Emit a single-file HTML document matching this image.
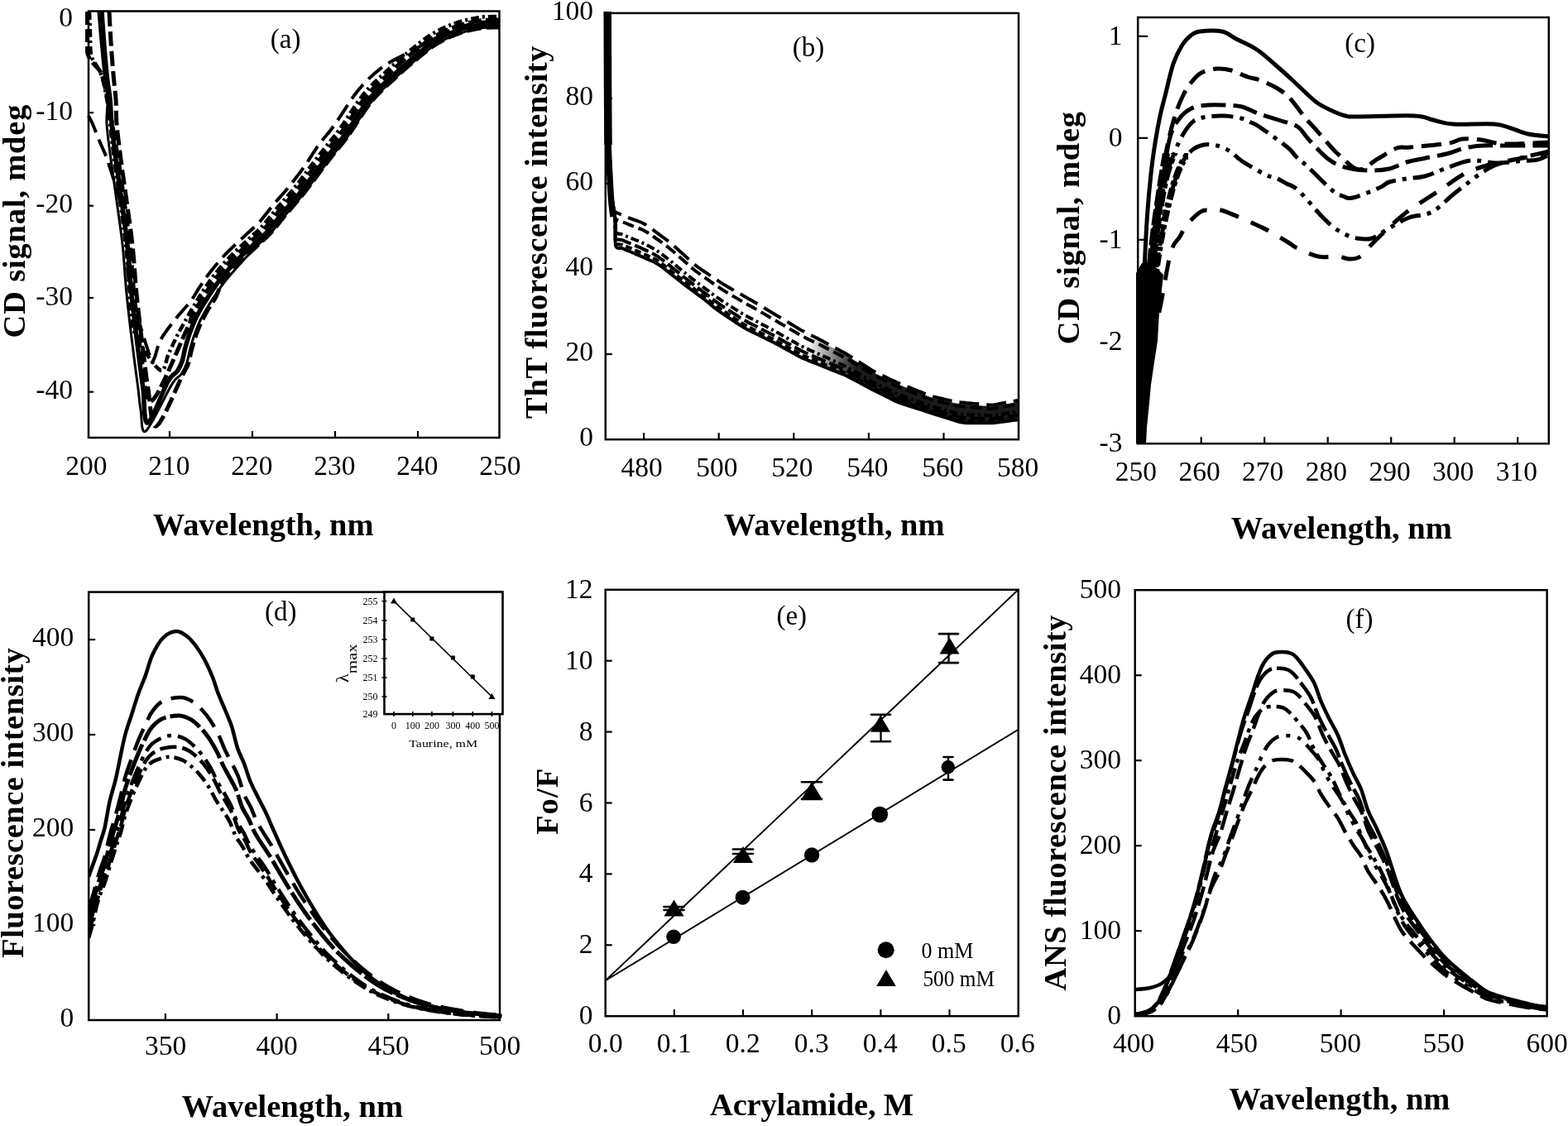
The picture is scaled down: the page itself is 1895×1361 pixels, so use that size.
<!DOCTYPE html><html><head><meta charset="utf-8"><title>Figure</title>
<style>html,body{margin:0;padding:0;background:#fff;}svg{display:block;}text{font-family:'Liberation Serif', serif;fill:#000;}</style></head><body>
<svg width="1895" height="1361" viewBox="0 0 1895 1361">
<rect width="1895" height="1361" fill="#fff"/>
<rect x="107" y="13.5" width="496.5" height="515.5" fill="none" stroke="#000" stroke-width="2.5"/>
<line x1="205" y1="529" x2="205" y2="521" stroke="#000" stroke-width="2.2"/>
<line x1="305" y1="529" x2="305" y2="521" stroke="#000" stroke-width="2.2"/>
<line x1="405" y1="529" x2="405" y2="521" stroke="#000" stroke-width="2.2"/>
<line x1="505" y1="529" x2="505" y2="521" stroke="#000" stroke-width="2.2"/>
<line x1="107" y1="136.2" x2="113" y2="136.2" stroke="#000" stroke-width="2.2"/>
<line x1="107" y1="248.7" x2="113" y2="248.7" stroke="#000" stroke-width="2.2"/>
<line x1="107" y1="360" x2="113" y2="360" stroke="#000" stroke-width="2.2"/>
<line x1="107" y1="473.7" x2="113" y2="473.7" stroke="#000" stroke-width="2.2"/>
<text x="88" y="32.2" font-size="33.5" text-anchor="end">0</text>
<text x="88" y="144.7" font-size="33.5" text-anchor="end">-10</text>
<text x="88" y="257.2" font-size="33.5" text-anchor="end">-20</text>
<text x="88" y="368.5" font-size="33.5" text-anchor="end">-30</text>
<text x="88" y="482.2" font-size="33.5" text-anchor="end">-40</text>
<text x="104.4" y="573.7" font-size="33.5" text-anchor="middle">200</text>
<text x="204.4" y="573.7" font-size="33.5" text-anchor="middle">210</text>
<text x="304.4" y="573.7" font-size="33.5" text-anchor="middle">220</text>
<text x="404.4" y="573.7" font-size="33.5" text-anchor="middle">230</text>
<text x="504.4" y="573.7" font-size="33.5" text-anchor="middle">240</text>
<text x="604.4" y="573.7" font-size="33.5" text-anchor="middle">250</text>
<text x="318.2" y="646.7" font-size="38.5" text-anchor="middle" font-weight="bold" textLength="266.7" lengthAdjust="spacing">Wavelength, nm</text>
<text transform="translate(29.5,267.5) rotate(-90)" x="0" y="0" font-size="38.5" text-anchor="middle" font-weight="bold" textLength="282" lengthAdjust="spacing">CD signal, mdeg</text>
<text x="345.1" y="58.1" font-size="33" text-anchor="middle">(a)</text>
<rect x="731.8" y="15.9" width="499.2" height="515.3" fill="none" stroke="#000" stroke-width="2.5"/>
<line x1="778.1" y1="531.2" x2="778.1" y2="523.2" stroke="#000" stroke-width="2.2"/>
<line x1="868.7" y1="531.2" x2="868.7" y2="523.2" stroke="#000" stroke-width="2.2"/>
<line x1="959.3" y1="531.2" x2="959.3" y2="523.2" stroke="#000" stroke-width="2.2"/>
<line x1="1049.9" y1="531.2" x2="1049.9" y2="523.2" stroke="#000" stroke-width="2.2"/>
<line x1="1140.5" y1="531.2" x2="1140.5" y2="523.2" stroke="#000" stroke-width="2.2"/>
<line x1="731.8" y1="428.1" x2="739.8" y2="428.1" stroke="#000" stroke-width="2.2"/>
<line x1="731.8" y1="325.1" x2="739.8" y2="325.1" stroke="#000" stroke-width="2.2"/>
<line x1="731.8" y1="222" x2="739.8" y2="222" stroke="#000" stroke-width="2.2"/>
<line x1="731.8" y1="119" x2="739.8" y2="119" stroke="#000" stroke-width="2.2"/>
<text x="716.9" y="539.2" font-size="33.5" text-anchor="end">0</text>
<text x="716.9" y="436.1" font-size="33.5" text-anchor="end">20</text>
<text x="716.9" y="333.1" font-size="33.5" text-anchor="end">40</text>
<text x="716.9" y="230" font-size="33.5" text-anchor="end">60</text>
<text x="716.9" y="127" font-size="33.5" text-anchor="end">80</text>
<text x="716.9" y="23.9" font-size="33.5" text-anchor="end">100</text>
<text x="775.5" y="576" font-size="33.5" text-anchor="middle">480</text>
<text x="866.4" y="576" font-size="33.5" text-anchor="middle">500</text>
<text x="957.4" y="576" font-size="33.5" text-anchor="middle">520</text>
<text x="1048.3" y="576" font-size="33.5" text-anchor="middle">540</text>
<text x="1139.3" y="576" font-size="33.5" text-anchor="middle">560</text>
<text x="1230.2" y="576" font-size="33.5" text-anchor="middle">580</text>
<text x="1008.2" y="646.7" font-size="38.5" text-anchor="middle" font-weight="bold" textLength="266.7" lengthAdjust="spacing">Wavelength, nm</text>
<text transform="translate(660.6,280.7) rotate(-90)" x="0" y="0" font-size="38.5" text-anchor="middle" font-weight="bold" textLength="450.4" lengthAdjust="spacing">ThT fluorescence intensity</text>
<text x="977" y="67.5" font-size="33" text-anchor="middle">(b)</text>
<rect x="1375.2" y="21" width="496.6" height="515.2" fill="none" stroke="#000" stroke-width="2.5"/>
<line x1="1451.7" y1="536.2" x2="1451.7" y2="528.2" stroke="#000" stroke-width="2.2"/>
<line x1="1528.2" y1="536.2" x2="1528.2" y2="528.2" stroke="#000" stroke-width="2.2"/>
<line x1="1604.7" y1="536.2" x2="1604.7" y2="528.2" stroke="#000" stroke-width="2.2"/>
<line x1="1681.2" y1="536.2" x2="1681.2" y2="528.2" stroke="#000" stroke-width="2.2"/>
<line x1="1757.7" y1="536.2" x2="1757.7" y2="528.2" stroke="#000" stroke-width="2.2"/>
<line x1="1834.2" y1="536.2" x2="1834.2" y2="528.2" stroke="#000" stroke-width="2.2"/>
<line x1="1375.2" y1="43.8" x2="1387.2" y2="43.8" stroke="#000" stroke-width="2.2"/>
<line x1="1375.2" y1="166.8" x2="1387.2" y2="166.8" stroke="#000" stroke-width="2.2"/>
<line x1="1375.2" y1="289.8" x2="1387.2" y2="289.8" stroke="#000" stroke-width="2.2"/>
<line x1="1375.2" y1="412.8" x2="1387.2" y2="412.8" stroke="#000" stroke-width="2.2"/>
<text x="1356.5" y="54" font-size="33.5" text-anchor="end">1</text>
<text x="1356.5" y="177" font-size="33.5" text-anchor="end">0</text>
<text x="1356.5" y="300" font-size="33.5" text-anchor="end">-1</text>
<text x="1356.5" y="423" font-size="33.5" text-anchor="end">-2</text>
<text x="1356.5" y="546" font-size="33.5" text-anchor="end">-3</text>
<text x="1372.9" y="580.7" font-size="33.5" text-anchor="middle">250</text>
<text x="1449.6" y="580.7" font-size="33.5" text-anchor="middle">260</text>
<text x="1526.2" y="580.7" font-size="33.5" text-anchor="middle">270</text>
<text x="1602.9" y="580.7" font-size="33.5" text-anchor="middle">280</text>
<text x="1679.5" y="580.7" font-size="33.5" text-anchor="middle">290</text>
<text x="1756.2" y="580.7" font-size="33.5" text-anchor="middle">300</text>
<text x="1832.8" y="580.7" font-size="33.5" text-anchor="middle">310</text>
<text x="1621.2" y="651" font-size="38.5" text-anchor="middle" font-weight="bold" textLength="267.1" lengthAdjust="spacing">Wavelength, nm</text>
<text transform="translate(1303.5,275.6) rotate(-90)" x="0" y="0" font-size="38.5" text-anchor="middle" font-weight="bold" textLength="281.2" lengthAdjust="spacing">CD signal, mdeg</text>
<text x="1643.6" y="62.8" font-size="33" text-anchor="middle">(c)</text>
<rect x="107.2" y="715.6" width="496.8" height="517.4" fill="none" stroke="#000" stroke-width="2.5"/>
<line x1="199.9" y1="1233" x2="199.9" y2="1225" stroke="#000" stroke-width="2.2"/>
<line x1="334.6" y1="1233" x2="334.6" y2="1225" stroke="#000" stroke-width="2.2"/>
<line x1="469.3" y1="1233" x2="469.3" y2="1225" stroke="#000" stroke-width="2.2"/>
<line x1="107.2" y1="1118" x2="115.2" y2="1118" stroke="#000" stroke-width="2.2"/>
<line x1="107.2" y1="1003" x2="115.2" y2="1003" stroke="#000" stroke-width="2.2"/>
<line x1="107.2" y1="888" x2="115.2" y2="888" stroke="#000" stroke-width="2.2"/>
<line x1="107.2" y1="773.1" x2="115.2" y2="773.1" stroke="#000" stroke-width="2.2"/>
<text x="89.2" y="1240.7" font-size="33.5" text-anchor="end">0</text>
<text x="89.2" y="1125.7" font-size="33.5" text-anchor="end">100</text>
<text x="89.2" y="1010.7" font-size="33.5" text-anchor="end">200</text>
<text x="89.2" y="895.7" font-size="33.5" text-anchor="end">300</text>
<text x="89.2" y="780.8" font-size="33.5" text-anchor="end">400</text>
<text x="200" y="1275" font-size="33.5" text-anchor="middle">350</text>
<text x="334.7" y="1275" font-size="33.5" text-anchor="middle">400</text>
<text x="469.5" y="1275" font-size="33.5" text-anchor="middle">450</text>
<text x="604.2" y="1275" font-size="33.5" text-anchor="middle">500</text>
<text x="353.3" y="1350.2" font-size="38.5" text-anchor="middle" font-weight="bold" textLength="267.5" lengthAdjust="spacing">Wavelength, nm</text>
<text transform="translate(28.2,970.5) rotate(-90)" x="0" y="0" font-size="38.5" text-anchor="middle" font-weight="bold" textLength="375" lengthAdjust="spacing">Fluorescence intensity</text>
<text x="339.2" y="750.2" font-size="33" text-anchor="middle">(d)</text>
<rect x="731.7" y="712.8" width="499" height="515.4" fill="none" stroke="#000" stroke-width="2.5"/>
<line x1="814.9" y1="1228.2" x2="814.9" y2="1220.2" stroke="#000" stroke-width="2.2"/>
<line x1="898" y1="1228.2" x2="898" y2="1220.2" stroke="#000" stroke-width="2.2"/>
<line x1="981.2" y1="1228.2" x2="981.2" y2="1220.2" stroke="#000" stroke-width="2.2"/>
<line x1="1064.4" y1="1228.2" x2="1064.4" y2="1220.2" stroke="#000" stroke-width="2.2"/>
<line x1="1147.5" y1="1228.2" x2="1147.5" y2="1220.2" stroke="#000" stroke-width="2.2"/>
<line x1="731.7" y1="1142.3" x2="739.7" y2="1142.3" stroke="#000" stroke-width="2.2"/>
<line x1="731.7" y1="1056.4" x2="739.7" y2="1056.4" stroke="#000" stroke-width="2.2"/>
<line x1="731.7" y1="970.5" x2="739.7" y2="970.5" stroke="#000" stroke-width="2.2"/>
<line x1="731.7" y1="884.6" x2="739.7" y2="884.6" stroke="#000" stroke-width="2.2"/>
<line x1="731.7" y1="798.7" x2="739.7" y2="798.7" stroke="#000" stroke-width="2.2"/>
<text x="716.5" y="1238.2" font-size="33.5" text-anchor="end">0</text>
<text x="716.5" y="1152.3" font-size="33.5" text-anchor="end">2</text>
<text x="716.5" y="1066.4" font-size="33.5" text-anchor="end">4</text>
<text x="716.5" y="980.5" font-size="33.5" text-anchor="end">6</text>
<text x="716.5" y="894.6" font-size="33.5" text-anchor="end">8</text>
<text x="716.5" y="808.7" font-size="33.5" text-anchor="end">10</text>
<text x="716.5" y="722.8" font-size="33.5" text-anchor="end">12</text>
<text x="731.7" y="1272.4" font-size="33.5" text-anchor="middle">0.0</text>
<text x="814.7" y="1272.4" font-size="33.5" text-anchor="middle">0.1</text>
<text x="897.7" y="1272.4" font-size="33.5" text-anchor="middle">0.2</text>
<text x="980.7" y="1272.4" font-size="33.5" text-anchor="middle">0.3</text>
<text x="1063.7" y="1272.4" font-size="33.5" text-anchor="middle">0.4</text>
<text x="1146.7" y="1272.4" font-size="33.5" text-anchor="middle">0.5</text>
<text x="1229.7" y="1272.4" font-size="33.5" text-anchor="middle">0.6</text>
<text x="981.1" y="1348.3" font-size="38.5" text-anchor="middle" font-weight="bold" textLength="246.2" lengthAdjust="spacing">Acrylamide, M</text>
<text transform="translate(674.4,968.9) rotate(-90)" x="0" y="0" font-size="38.5" text-anchor="middle" font-weight="bold" textLength="80.4" lengthAdjust="spacing">Fo/F</text>
<text x="956.8" y="754.8" font-size="33" text-anchor="middle">(e)</text>
<rect x="1371.7" y="713.2" width="497.9" height="515" fill="none" stroke="#000" stroke-width="2.5"/>
<line x1="1496.2" y1="1228.2" x2="1496.2" y2="1220.2" stroke="#000" stroke-width="2.2"/>
<line x1="1620.6" y1="1228.2" x2="1620.6" y2="1220.2" stroke="#000" stroke-width="2.2"/>
<line x1="1745.1" y1="1228.2" x2="1745.1" y2="1220.2" stroke="#000" stroke-width="2.2"/>
<line x1="1371.7" y1="1125.2" x2="1379.7" y2="1125.2" stroke="#000" stroke-width="2.2"/>
<line x1="1371.7" y1="1022.2" x2="1379.7" y2="1022.2" stroke="#000" stroke-width="2.2"/>
<line x1="1371.7" y1="919.2" x2="1379.7" y2="919.2" stroke="#000" stroke-width="2.2"/>
<line x1="1371.7" y1="816.2" x2="1379.7" y2="816.2" stroke="#000" stroke-width="2.2"/>
<text x="1355" y="1237.7" font-size="33.5" text-anchor="end">0</text>
<text x="1355" y="1134.7" font-size="33.5" text-anchor="end">100</text>
<text x="1355" y="1031.7" font-size="33.5" text-anchor="end">200</text>
<text x="1355" y="928.7" font-size="33.5" text-anchor="end">300</text>
<text x="1355" y="825.7" font-size="33.5" text-anchor="end">400</text>
<text x="1355" y="722.7" font-size="33.5" text-anchor="end">500</text>
<text x="1370" y="1272.4" font-size="33.5" text-anchor="middle">400</text>
<text x="1494.9" y="1272.4" font-size="33.5" text-anchor="middle">450</text>
<text x="1619.8" y="1272.4" font-size="33.5" text-anchor="middle">500</text>
<text x="1744.7" y="1272.4" font-size="33.5" text-anchor="middle">550</text>
<text x="1869.6" y="1272.4" font-size="33.5" text-anchor="middle">600</text>
<text x="1618.8" y="1341" font-size="38.5" text-anchor="middle" font-weight="bold" textLength="267.1" lengthAdjust="spacing">Wavelength, nm</text>
<text transform="translate(1287.7,970.4) rotate(-90)" x="0" y="0" font-size="38.5" text-anchor="middle" font-weight="bold" textLength="454" lengthAdjust="spacing">ANS fluorescence intensity</text>
<text x="1643.1" y="759.4" font-size="33" text-anchor="middle">(f)</text>
<clipPath id="ca"><rect x="103" y="9.5" width="504.5" height="519.5"/></clipPath>
<g clip-path="url(#ca)">
<path d="M119,14 C119.5,20 120.8,37.3 122,50 C123.2,62.7 124.7,78.3 126,90 C127.3,101.7 129.5,110 130,120 C130.5,130 128.2,136.7 129,150 C129.8,163.3 132.8,183.3 135,200 C137.2,216.7 139.8,233.3 142,250 C144.2,266.7 146.8,283.3 148.5,300 C150.2,316.7 150.9,333.3 152.5,350 C154.1,366.7 156.2,385 158,400 C159.8,415 161.5,428.3 163,440 C164.5,451.7 165.8,460.8 167,470 C168.2,479.2 168.4,486.5 170,495 C171.6,503.5 170.1,526 176.3,521 C182.5,516 200.3,476.5 207.4,465.1 C214.5,453.6 215.9,456.8 218.9,452.5 C221.9,448.1 223.9,444.1 225.7,439 C227.5,433.8 228.2,427.4 229.8,421.6 C231.4,415.7 233.2,409.5 235.2,404 C237.1,398.5 239.1,393.5 241.4,388.5 C243.8,383.5 246.3,379 249.2,374 C252.1,369 255.4,363.7 259,358.3 C262.6,352.9 265.8,347.9 270.7,341.7 C275.6,335.5 282.2,328.1 288.3,321.1 C294.5,314.2 301.3,306.5 307.8,299.9 C314.2,293.3 320.7,288.4 326.9,281.7 C333.2,275 338.9,266.9 345.1,259.6 C351.3,252.2 357.8,245.4 364.1,237.5 C370.5,229.7 376.8,220.8 383.2,212.4 C389.5,204.1 396,195.4 402.2,187.5 C408.3,179.5 412.4,175.7 420.2,164.8 C428.1,154 439.9,134 449.1,122.5 C458.4,111 467,104.1 475.7,95.9 C484.5,87.7 493,80.2 501.5,73.1 C510.1,66 518.5,58.8 527.1,53.4 C535.8,48 544.4,44 553.4,40.8 C562.3,37.5 572.3,35.2 580.6,34 C588.9,32.7 599.4,33.2 603.2,33" fill="none" stroke="#000" stroke-width="3" stroke-linecap="butt" stroke-linejoin="round"/>
<path d="M123,14 C123.4,20 124.5,37.3 125.5,50 C126.5,62.7 127.8,78.3 129,90 C130.2,101.7 132,110 133,120 C134,130 133.7,136.7 135,150 C136.3,163.3 138.8,183.3 141,200 C143.2,216.7 145.8,233.3 148,250 C150.2,266.7 152.8,283.3 154.5,300 C156.2,316.7 156.9,333.3 158.5,350 C160.1,366.7 162.2,385 164,400 C165.8,415 167.5,428.3 169,440 C170.5,451.7 171.4,458.2 173,470 C174.6,481.8 173.5,512.5 178.5,511 C183.5,509.5 197.1,471.3 203,461 C208.9,450.7 211.2,453 214,449 C216.8,445 218.3,441.8 220,437 C221.7,432.2 222.4,425.8 224,420 C225.6,414.2 227.5,407.7 229.5,402 C231.5,396.3 233.6,391.2 236,386 C238.4,380.8 241,376.2 244,371 C247,365.8 250.3,360.5 254,355 C257.7,349.5 261,344.3 266,338 C271,331.7 277.5,323.8 284,317 C290.5,310.2 298.3,303.3 305,297 C311.7,290.7 317.8,285.7 324,279 C330.2,272.3 335.8,264.3 342,257 C348.2,249.7 354.7,242.8 361,235 C367.3,227.2 373.7,218.3 380,210 C386.3,201.7 392.8,192.9 399,185 C405.2,177.1 409.2,173.3 417,162.5 C424.8,151.7 436.7,131.6 446,120 C455.3,108.4 464.2,101.3 473,93 C481.8,84.7 490.3,77.2 499,70 C507.7,62.8 516.2,55.5 525,50 C533.8,44.5 542.8,40.3 552,37 C561.2,33.7 571.5,31.3 580,30 C588.5,28.7 599.2,29.2 603,29" fill="none" stroke="#000" stroke-width="5.5" stroke-linecap="butt" stroke-linejoin="round"/>
<path d="M104,14 C104.2,18.3 104.7,31.5 105,40 C105.3,48.5 104.5,58.7 106,65 C107.5,71.3 111.3,74.2 114,78 C116.7,81.8 119.7,82.7 122,88 C124.3,93.3 126.2,102.2 128,110 C129.8,117.8 130.3,120 133,135 C135.7,150 141,180.8 144,200 C147,219.2 148.8,233.3 151,250 C153.2,266.7 155.8,283.3 157.5,300 C159.2,316.7 159.9,333.3 161.5,350 C163.1,366.7 165.2,385 167,400 C168.8,415 169.2,426 172,440 C174.8,454 175.2,490.6 184,484 C192.8,477.4 216.9,417 224.8,400.3 C232.7,383.6 229,389.2 231.5,383.9 C234,378.6 236.6,373.8 239.7,368.5 C242.7,363.2 246.1,357.8 249.8,352.2 C253.6,346.6 257,341.3 262.1,334.9 C267.2,328.5 273.8,320.5 280.4,313.6 C287,306.6 294.9,299.7 301.6,293.4 C308.2,287.1 314.2,282.2 320.3,275.6 C326.4,269 332,261.1 338.2,253.8 C344.3,246.5 350.8,239.7 357.1,231.9 C363.4,224.1 369.7,215.3 376,207 C382.3,198.7 388.9,189.8 395.1,181.9 C401.2,174 405.1,170.4 412.9,159.6 C420.8,148.7 432.7,128.6 442.1,116.9 C451.5,105.2 460.6,97.8 469.6,89.4 C478.5,80.9 487,73.4 495.8,66.1 C504.6,58.9 513.3,51.4 522.4,45.8 C531.4,40.1 540.8,35.8 550.3,32.3 C559.8,28.9 570.5,26.4 579.2,25.1 C588,23.7 598.9,24.2 602.8,24" fill="none" stroke="#000" stroke-width="5" stroke-linecap="butt" stroke-linejoin="round" stroke-dasharray="16 5"/>
<path d="M107,140 C107.8,141.7 109.8,145 112,150 C114.2,155 117.5,164 120,170 C122.5,176 125,181 127,186 C129,191 128.7,189.3 132,200 C135.3,210.7 143.4,233.3 147,250 C150.6,266.7 151.8,283.3 153.5,300 C155.2,316.7 152.9,328.3 157.5,350 C162.1,371.7 176.2,416 181,430 C185.8,444 183.8,437.2 186,434 C188.2,430.8 189.8,418.8 194,411 C198.2,403.2 206.3,393.2 211,387 C215.7,380.8 218.7,377.9 222,374 C225.3,370.1 227.8,368 231,363.5 C234.3,358.9 237.7,352.5 241.5,346.7 C245.4,340.9 249,335.4 254.2,328.7 C259.5,322 266.4,313.8 273.1,306.7 C279.9,299.6 288,292.4 294.7,286.1 C301.3,279.8 307,275.3 313,268.8 C319,262.4 324.5,254.6 330.5,247.3 C336.6,240.1 343.1,233.3 349.3,225.6 C355.6,217.8 362,209.4 368.1,200.9 C374.1,192.4 379.7,182.6 385.6,174.6 C391.4,166.5 395.4,163.4 403.2,152.5 C411.1,141.7 423,121.2 432.8,109.3 C442.6,97.5 451.8,88.9 462,81.3 C472.1,73.7 483.5,69.2 493.7,63.6 C504,58 513.9,52.4 523.4,47.5 C533,42.5 541.6,37.6 551,34.2 C560.3,30.8 570.9,28.4 579.5,27 C588.2,25.7 599,26.2 602.9,26" fill="none" stroke="#000" stroke-width="4" stroke-linecap="butt" stroke-linejoin="round" stroke-dasharray="22 9"/>
<path d="M132,14 C132.3,20 133.2,37.3 134,50 C134.8,62.7 136,78.3 137,90 C138,101.7 139.3,110 140,120 C140.7,130 139.8,136.7 141,150 C142.2,163.3 144.8,183.3 147,200 C149.2,216.7 151.8,233.3 154,250 C156.2,266.7 158.8,283.3 160.5,300 C162.2,316.7 162.9,333.3 164.5,350 C166.1,366.7 168.2,385 170,400 C171.8,415 173.5,428.3 175,440 C176.5,451.7 176.7,457.5 179,470 C181.3,482.5 182.1,517.7 189,515 C195.9,512.3 214.1,466.2 220.5,453.6 C227,441.1 225.7,444.9 227.6,439.6 C229.4,434.4 230.1,427.9 231.7,422.1 C233.3,416.3 235.1,410.1 237,404.7 C239,399.2 240.9,394.3 243.2,389.4 C245.6,384.4 248,380 250.9,375 C253.8,370 257.6,365.2 260.7,359.4 C263.7,353.7 264.8,347.1 269.1,340.5 C273.5,333.9 280.5,326.5 286.9,319.8 C293.3,313 301.1,306.2 307.8,299.9 C314.4,293.6 320.7,288.4 326.9,281.7 C333.2,275 338.9,266.9 345.1,259.6 C351.3,252.2 357.8,245.4 364.1,237.5 C370.5,229.7 376.8,220.8 383.2,212.4 C389.5,204.1 396,195.4 402.2,187.5 C408.3,179.5 412.4,175.7 420.2,164.8 C428.1,154 439.9,134 449.1,122.5 C458.4,111 467,104.1 475.7,95.9 C484.5,87.7 493,80.2 501.5,73.1 C510.1,66 518.5,58.8 527.1,53.4 C535.8,48 544.4,44 553.4,40.8 C562.3,37.5 572.3,35.2 580.6,34 C588.9,32.7 599.4,33.2 603.2,33" fill="none" stroke="#000" stroke-width="5" stroke-linecap="butt" stroke-linejoin="round" stroke-dasharray="18 6"/>
<path d="M108,14 C108.2,18.3 108.7,31.3 109,40 C109.3,48.7 108.7,59.3 110,66 C111.3,72.7 114.7,75.2 117,80 C119.3,84.8 121.8,87.5 124,95 C126.2,102.5 128.5,115.8 130,125 C131.5,134.2 131.5,137.5 133,150 C134.5,162.5 136.8,183.3 139,200 C141.2,216.7 143.8,233.3 146,250 C148.2,266.7 150.8,283.3 152.5,300 C154.2,316.7 154.9,333.3 156.5,350 C158.1,366.7 155.9,383.8 162,400 C168.1,416.2 186,442.5 193,447 C200,451.5 200.2,434.5 204,427 C207.8,419.5 210.6,412.1 216,402 C221.4,391.9 231.1,375.1 236.2,366.5 C241.3,357.8 242.7,355.7 246.5,350 C250.3,344.3 253.8,339 258.9,332.4 C264.1,325.9 270.8,317.8 277.5,310.8 C284.1,303.8 292.1,296.8 298.8,290.5 C305.5,284.2 311.3,279.4 317.4,272.9 C323.4,266.3 329,258.5 335.1,251.2 C341.2,243.9 347.7,237.1 354,229.3 C360.3,221.6 366.5,212.9 372.8,204.6 C379.2,196.2 385.8,187.4 391.9,179.5 C398,171.6 401.9,168.1 409.7,157.2 C417.6,146.4 429.5,126.1 439,114.4 C448.5,102.6 457.8,95 466.8,86.5 C475.9,77.9 484.4,70.4 493.3,63.1 C502.2,55.7 511,48.1 520.2,42.4 C529.5,36.6 539.2,32.1 548.9,28.5 C558.7,25 569.7,22.5 578.6,21.1 C587.6,19.7 598.6,20.2 602.6,20" fill="none" stroke="#000" stroke-width="4.5" stroke-linecap="butt" stroke-linejoin="round" stroke-dasharray="10 4 3 4"/>
</g>
<clipPath id="cb"><rect x="727.8" y="11.9" width="507.2" height="519.3"/></clipPath>
<g clip-path="url(#cb)">
<path d="M735,175 C735.2,180 735.9,195.5 736.5,205 C737.1,214.5 737.7,224.4 738.5,232 C739.3,239.6 740.2,246.6 741.1,250.6 C742,254.6 742.2,254.8 744,256.3 C745.8,257.8 749.3,258.6 752,259.8 C754.7,261 757.3,262.2 760,263.3 C762.7,264.4 765.3,265.3 768,266.2 C770.7,267.2 773.3,267.9 776,269.2 C778.7,270.5 781.3,272.2 784,274 C786.7,275.8 789.3,277.9 792,279.8 C794.7,281.8 797.3,283.8 800,285.8 C802.7,287.7 805.3,289.6 808,291.7 C810.7,293.8 813.3,296.3 816,298.6 C818.7,301 821.3,303.4 824,305.8 C826.7,308.2 829.3,310.6 832,313 C834.7,315.4 837.3,318.1 840,320.2 C842.7,322.4 845.3,324.2 848,326.1 C850.7,327.9 853.3,329.6 856,331.4 C858.7,333.2 861.3,335 864,336.8 C866.7,338.6 869.3,340.4 872,342.1 C874.7,343.9 877.3,345.4 880,347 C882.7,348.6 885.3,350 888,351.6 C890.7,353.1 893.3,354.6 896,356.1 C898.7,357.6 901.3,359.2 904,360.7 C906.7,362.2 909.3,363.6 912,365.2 C914.7,366.8 917.3,368.4 920,370 C922.7,371.6 925.3,373.2 928,374.9 C930.7,376.5 933.3,378.1 936,379.7 C938.7,381.3 941.3,382.9 944,384.5 C946.7,386.1 949.3,387.7 952,389.3 C954.7,390.9 957.3,392.5 960,394.1 C962.7,395.7 965.3,397.4 968,398.9 C970.7,400.3 973.3,401.7 976,403 C978.7,404.4 981.3,405.7 984,407 C986.7,408.4 989.3,409.7 992,411.1 C994.7,412.6 997.3,414 1000,415.5 C1002.7,416.9 1005.3,418.3 1008,419.8 C1010.7,421.2 1013.3,422.6 1016,424.1 C1018.7,425.5 1021.3,426.9 1024,428.5 C1026.7,430.1 1029.3,431.9 1032,433.5 C1034.7,435.2 1037.3,436.9 1040,438.6 C1042.7,440.3 1045.3,442 1048,443.7 C1050.7,445.4 1053.3,447.2 1056,448.7 C1058.7,450.2 1061.3,451.3 1064,452.6 C1066.7,453.9 1069.3,455.2 1072,456.5 C1074.7,457.8 1077.3,459.1 1080,460.3 C1082.7,461.6 1085.3,462.8 1088,463.9 C1090.7,465.1 1093.3,466.1 1096,467.1 C1098.7,468.2 1101.3,469.2 1104,470.3 C1106.7,471.4 1109.3,472.4 1112,473.5 C1114.7,474.5 1117.3,475.7 1120,476.7 C1122.7,477.6 1125.3,478.6 1128,479.4 C1130.7,480.1 1133.3,480.6 1136,481.2 C1138.7,481.9 1141.3,482.5 1144,483.1 C1146.7,483.8 1149.3,484.5 1152,485 C1154.7,485.5 1157.3,485.9 1160,486.2 C1162.7,486.5 1165.3,486.7 1168,487 C1170.7,487.2 1173.3,487.4 1176,487.7 C1178.7,487.9 1181.3,488.1 1184,488.4 C1186.7,488.6 1189.3,488.9 1192,489.1 C1194.7,489.3 1197.3,489.7 1200,489.5 C1202.7,489.3 1205.3,488.5 1208,488 C1210.7,487.5 1213.3,487 1216,486.5 C1218.7,486 1221.5,485.5 1224,485 C1226.5,484.6 1229.8,484 1231,483.8" fill="none" stroke="#000" stroke-width="4" stroke-linecap="butt" stroke-linejoin="round" stroke-dasharray="24 9"/>
<path d="M735,175 C735.2,180 735.9,195.5 736.5,205 C737.1,214.5 737.6,223.8 738.5,232 C739.4,240.2 740.7,249 741.7,254.4 C742.6,259.8 742.3,262.2 744,264.5 C745.7,266.7 749.3,266.8 752,267.9 C754.7,269.1 757.3,270.3 760,271.4 C762.7,272.5 765.3,273.4 768,274.5 C770.7,275.5 773.3,276.3 776,277.5 C778.7,278.8 781.3,280.4 784,282 C786.7,283.7 789.3,285.6 792,287.5 C794.7,289.3 797.3,291.3 800,293.2 C802.7,295.2 805.3,297.1 808,299.2 C810.7,301.4 813.3,303.7 816,306 C818.7,308.3 821.3,310.7 824,313.1 C826.7,315.4 829.3,317.7 832,320 C834.7,322.3 837.3,324.8 840,327 C842.7,329.1 845.3,330.9 848,332.8 C850.7,334.7 853.3,336.5 856,338.4 C858.7,340.3 861.3,342.2 864,344 C866.7,345.8 869.3,347.7 872,349.4 C874.7,351.2 877.3,352.8 880,354.4 C882.7,356 885.3,357.5 888,359.1 C890.7,360.7 893.3,362.3 896,363.8 C898.7,365.4 901.3,366.9 904,368.4 C906.7,369.9 909.3,371.3 912,372.8 C914.7,374.3 917.3,375.9 920,377.4 C922.7,379 925.3,380.5 928,382 C930.7,383.6 933.3,385.1 936,386.7 C938.7,388.3 941.3,389.9 944,391.4 C946.7,393 949.3,394.6 952,396.1 C954.7,397.7 957.3,399.3 960,400.8 C962.7,402.4 965.3,404.1 968,405.5 C970.7,407 973.3,408.3 976,409.6 C978.7,410.9 981.3,412.1 984,413.4 C986.7,414.7 989.3,416 992,417.3 C994.7,418.7 997.3,420.1 1000,421.4 C1002.7,422.8 1005.3,424.1 1008,425.5 C1010.7,426.9 1013.3,428.2 1016,429.6 C1018.7,431 1021.3,432.3 1024,433.8 C1026.7,435.3 1029.3,437 1032,438.7 C1034.7,440.3 1037.3,441.9 1040,443.6 C1042.7,445.2 1045.3,446.9 1048,448.5 C1050.7,450.1 1053.3,451.9 1056,453.4 C1058.7,454.9 1061.3,456 1064,457.3 C1066.7,458.6 1069.3,459.9 1072,461.2 C1074.7,462.5 1077.3,463.8 1080,465.1 C1082.7,466.3 1085.3,467.5 1088,468.6 C1090.7,469.8 1093.3,470.7 1096,471.7 C1098.7,472.7 1101.3,473.7 1104,474.8 C1106.7,475.8 1109.3,476.8 1112,477.8 C1114.7,478.8 1117.3,479.9 1120,480.9 C1122.7,481.8 1125.3,482.8 1128,483.5 C1130.7,484.3 1133.3,484.9 1136,485.5 C1138.7,486.2 1141.3,486.9 1144,487.6 C1146.7,488.2 1149.3,489 1152,489.6 C1154.7,490.1 1157.3,490.6 1160,491 C1162.7,491.4 1165.3,491.6 1168,491.9 C1170.7,492.1 1173.3,492.2 1176,492.4 C1178.7,492.6 1181.3,492.8 1184,493 C1186.7,493.2 1189.3,493.4 1192,493.6 C1194.7,493.7 1197.3,494.1 1200,493.9 C1202.7,493.7 1205.3,493 1208,492.5 C1210.7,492 1213.3,491.6 1216,491.1 C1218.7,490.6 1221.5,490.2 1224,489.7 C1226.5,489.3 1229.8,488.7 1231,488.5" fill="none" stroke="#000" stroke-width="4" stroke-linecap="butt" stroke-linejoin="round" stroke-dasharray="14 6"/>
<path d="M735,175 C735.2,180 735.9,195.5 736.5,205 C737.1,214.5 737.5,222.6 738.5,232 C739.5,241.4 741.8,253.6 742.7,261.6 C743.7,269.6 742.5,276.3 744,279.9 C745.5,283.6 749.3,282.2 752,283.4 C754.7,284.5 757.3,285.7 760,286.8 C762.7,287.9 765.3,288.9 768,290 C770.7,291.1 773.3,292 776,293.3 C778.7,294.5 781.3,295.9 784,297.3 C786.7,298.8 789.3,300.2 792,301.9 C794.7,303.5 797.3,305.5 800,307.4 C802.7,309.3 805.3,311.4 808,313.5 C810.7,315.7 813.3,317.9 816,320.1 C818.7,322.3 821.3,324.6 824,326.8 C826.7,328.9 829.3,331.1 832,333.2 C834.7,335.4 837.3,337.7 840,339.7 C842.7,341.8 845.3,343.6 848,345.6 C850.7,347.6 853.3,349.6 856,351.6 C858.7,353.6 861.3,355.7 864,357.6 C866.7,359.6 869.3,361.4 872,363.2 C874.7,365 877.3,366.7 880,368.4 C882.7,370 885.3,371.7 888,373.4 C890.7,375 893.3,376.8 896,378.4 C898.7,380 901.3,381.5 904,382.9 C906.7,384.4 909.3,385.7 912,387.1 C914.7,388.5 917.3,390 920,391.4 C922.7,392.8 925.3,394.3 928,395.7 C930.7,397.1 933.3,398.5 936,400 C938.7,401.5 941.3,403 944,404.6 C946.7,406.1 949.3,407.6 952,409.1 C954.7,410.6 957.3,412.1 960,413.6 C962.7,415.1 965.3,416.8 968,418.2 C970.7,419.6 973.3,420.7 976,421.9 C978.7,423.2 981.3,424.3 984,425.5 C986.7,426.6 989.3,427.8 992,429 C994.7,430.3 997.3,431.5 1000,432.7 C1002.7,433.9 1005.3,435.2 1008,436.4 C1010.7,437.6 1013.3,438.8 1016,440 C1018.7,441.3 1021.3,442.4 1024,443.8 C1026.7,445.2 1029.3,446.9 1032,448.4 C1034.7,450 1037.3,451.5 1040,453 C1042.7,454.6 1045.3,456.1 1048,457.6 C1050.7,459.2 1053.3,460.8 1056,462.2 C1058.7,463.6 1061.3,464.8 1064,466.2 C1066.7,467.5 1069.3,468.8 1072,470.1 C1074.7,471.4 1077.3,472.8 1080,474 C1082.7,475.3 1085.3,476.5 1088,477.6 C1090.7,478.6 1093.3,479.4 1096,480.4 C1098.7,481.3 1101.3,482.3 1104,483.2 C1106.7,484.1 1109.3,485.1 1112,486 C1114.7,487 1117.3,487.9 1120,488.8 C1122.7,489.7 1125.3,490.6 1128,491.4 C1130.7,492.3 1133.3,492.9 1136,493.7 C1138.7,494.4 1141.3,495.2 1144,495.9 C1146.7,496.7 1149.3,497.5 1152,498.2 C1154.7,498.9 1157.3,499.6 1160,500.1 C1162.7,500.6 1165.3,500.9 1168,501.2 C1170.7,501.4 1173.3,501.4 1176,501.5 C1178.7,501.6 1181.3,501.7 1184,501.8 C1186.7,501.9 1189.3,502 1192,502.1 C1194.7,502.1 1197.3,502.4 1200,502.2 C1202.7,502 1205.3,501.4 1208,501 C1210.7,500.6 1213.3,500.2 1216,499.8 C1218.7,499.4 1221.5,498.9 1224,498.6 C1226.5,498.2 1229.8,497.7 1231,497.5" fill="none" stroke="#000" stroke-width="4" stroke-linecap="butt" stroke-linejoin="round" stroke-dasharray="10 4 3 4"/>
<path d="M735,175 C735.2,180 735.9,195.5 736.5,205 C737.1,214.5 737.4,222 738.5,232 C739.6,242 742.3,255.7 743.2,264.8 C744.1,273.9 742.5,282.6 744,286.8 C745.5,291.1 749.3,289.1 752,290.2 C754.7,291.4 757.3,292.5 760,293.6 C762.7,294.8 765.3,295.8 768,296.9 C770.7,298 773.3,299.1 776,300.3 C778.7,301.5 781.3,302.8 784,304.1 C786.7,305.5 789.3,306.7 792,308.3 C794.7,309.9 797.3,311.8 800,313.7 C802.7,315.6 805.3,317.8 808,319.9 C810.7,322 813.3,324.2 816,326.3 C818.7,328.5 821.3,330.7 824,332.8 C826.7,335 829.3,337 832,339.1 C834.7,341.2 837.3,343.4 840,345.4 C842.7,347.4 845.3,349.3 848,351.3 C850.7,353.3 853.3,355.4 856,357.4 C858.7,359.5 861.3,361.7 864,363.7 C866.7,365.7 869.3,367.6 872,369.4 C874.7,371.2 877.3,372.8 880,374.6 C882.7,376.3 885.3,378 888,379.7 C890.7,381.4 893.3,383.2 896,384.8 C898.7,386.4 901.3,388 904,389.4 C906.7,390.9 909.3,392.1 912,393.5 C914.7,394.8 917.3,396.2 920,397.6 C922.7,399 925.3,400.4 928,401.7 C930.7,403.1 933.3,404.5 936,405.9 C938.7,407.4 941.3,408.9 944,410.4 C946.7,411.9 949.3,413.4 952,414.9 C954.7,416.3 957.3,417.8 960,419.3 C962.7,420.8 965.3,422.4 968,423.8 C970.7,425.1 973.3,426.3 976,427.4 C978.7,428.6 981.3,429.7 984,430.8 C986.7,432 989.3,433.1 992,434.3 C994.7,435.4 997.3,436.6 1000,437.7 C1002.7,438.9 1005.3,440 1008,441.2 C1010.7,442.4 1013.3,443.5 1016,444.7 C1018.7,445.9 1021.3,446.9 1024,448.3 C1026.7,449.6 1029.3,451.3 1032,452.7 C1034.7,454.2 1037.3,455.7 1040,457.2 C1042.7,458.7 1045.3,460.2 1048,461.7 C1050.7,463.2 1053.3,464.7 1056,466.1 C1058.7,467.5 1061.3,468.8 1064,470.1 C1066.7,471.4 1069.3,472.7 1072,474.1 C1074.7,475.4 1077.3,476.8 1080,478 C1082.7,479.3 1085.3,480.5 1088,481.5 C1090.7,482.6 1093.3,483.3 1096,484.2 C1098.7,485.1 1101.3,486 1104,486.9 C1106.7,487.9 1109.3,488.8 1112,489.7 C1114.7,490.6 1117.3,491.5 1120,492.4 C1122.7,493.3 1125.3,494.1 1128,495 C1130.7,495.8 1133.3,496.5 1136,497.3 C1138.7,498.1 1141.3,498.9 1144,499.7 C1146.7,500.4 1149.3,501.3 1152,502 C1154.7,502.8 1157.3,503.6 1160,504.2 C1162.7,504.7 1165.3,505.1 1168,505.3 C1170.7,505.5 1173.3,505.4 1176,505.5 C1178.7,505.5 1181.3,505.6 1184,505.7 C1186.7,505.7 1189.3,505.8 1192,505.9 C1194.7,505.9 1197.3,506.1 1200,505.9 C1202.7,505.7 1205.3,505.1 1208,504.7 C1210.7,504.4 1213.3,504 1216,503.6 C1218.7,503.2 1221.5,502.8 1224,502.5 C1226.5,502.1 1229.8,501.7 1231,501.5" fill="none" stroke="#000" stroke-width="4" stroke-linecap="butt" stroke-linejoin="round" stroke-dasharray="18 5"/>
<path d="M735,175 C735.2,180 735.9,195.5 736.5,205 C737.1,214.5 737.3,221.6 738.5,232 C739.7,242.4 742.7,257.3 743.6,267.4 C744.5,277.5 742.6,287.7 744,292.4 C745.4,297.1 749.3,294.7 752,295.8 C754.7,296.9 757.3,298.1 760,299.2 C762.7,300.3 765.3,301.4 768,302.5 C770.7,303.7 773.3,304.8 776,306 C778.7,307.1 781.3,308.4 784,309.6 C786.7,310.9 789.3,311.9 792,313.5 C794.7,315 797.3,316.9 800,318.8 C802.7,320.7 805.3,323 808,325.1 C810.7,327.2 813.3,329.3 816,331.4 C818.7,333.5 821.3,335.7 824,337.8 C826.7,339.9 829.3,341.9 832,343.9 C834.7,345.9 837.3,348 840,350 C842.7,352 845.3,353.9 848,355.9 C850.7,357.9 853.3,360.1 856,362.2 C858.7,364.3 861.3,366.6 864,368.6 C866.7,370.6 869.3,372.5 872,374.3 C874.7,376.2 877.3,377.9 880,379.6 C882.7,381.4 885.3,383.1 888,384.8 C890.7,386.6 893.3,388.4 896,390.1 C898.7,391.7 901.3,393.3 904,394.7 C906.7,396.1 909.3,397.3 912,398.7 C914.7,400 917.3,401.3 920,402.7 C922.7,404 925.3,405.3 928,406.7 C930.7,408 933.3,409.3 936,410.7 C938.7,412.1 941.3,413.7 944,415.1 C946.7,416.6 949.3,418.1 952,419.5 C954.7,421 957.3,422.5 960,423.9 C962.7,425.4 965.3,427 968,428.3 C970.7,429.7 973.3,430.8 976,431.9 C978.7,433 981.3,434.1 984,435.2 C986.7,436.3 989.3,437.4 992,438.5 C994.7,439.6 997.3,440.7 1000,441.8 C1002.7,442.9 1005.3,444 1008,445.1 C1010.7,446.2 1013.3,447.3 1016,448.5 C1018.7,449.6 1021.3,450.6 1024,451.9 C1026.7,453.2 1029.3,454.8 1032,456.3 C1034.7,457.7 1037.3,459.2 1040,460.6 C1042.7,462.1 1045.3,463.5 1048,465 C1050.7,466.4 1053.3,467.9 1056,469.3 C1058.7,470.7 1061.3,472 1064,473.3 C1066.7,474.6 1069.3,476 1072,477.3 C1074.7,478.6 1077.3,480 1080,481.3 C1082.7,482.5 1085.3,483.7 1088,484.7 C1090.7,485.8 1093.3,486.5 1096,487.4 C1098.7,488.2 1101.3,489.1 1104,490 C1106.7,490.9 1109.3,491.8 1112,492.6 C1114.7,493.5 1117.3,494.4 1120,495.3 C1122.7,496.1 1125.3,497 1128,497.8 C1130.7,498.7 1133.3,499.4 1136,500.3 C1138.7,501.1 1141.3,501.9 1144,502.7 C1146.7,503.5 1149.3,504.3 1152,505.1 C1154.7,505.9 1157.3,506.9 1160,507.5 C1162.7,508 1165.3,508.4 1168,508.6 C1170.7,508.9 1173.3,508.7 1176,508.7 C1178.7,508.8 1181.3,508.8 1184,508.8 C1186.7,508.9 1189.3,508.9 1192,508.9 C1194.7,508.9 1197.3,509.1 1200,508.9 C1202.7,508.7 1205.3,508.2 1208,507.8 C1210.7,507.5 1213.3,507.1 1216,506.7 C1218.7,506.4 1221.5,506 1224,505.7 C1226.5,505.3 1229.8,504.9 1231,504.8" fill="none" stroke="#000" stroke-width="4" stroke-linecap="butt" stroke-linejoin="round" stroke-dasharray="8 4"/>
<path d="M735,175 C735.2,180 735.9,195.5 736.5,205 C737.1,214.5 737.3,221.3 738.5,232 C739.7,242.7 743,258.6 743.9,269.4 C744.8,280.2 742.7,291.6 744,296.7 C745.3,301.8 749.3,299 752,300.1 C754.7,301.2 757.3,302.4 760,303.5 C762.7,304.6 765.3,305.7 768,306.9 C770.7,308 773.3,309.2 776,310.3 C778.7,311.5 781.3,312.7 784,313.9 C786.7,315.1 789.3,316 792,317.5 C794.7,319 797.3,320.8 800,322.7 C802.7,324.7 805.3,326.9 808,329 C810.7,331.1 813.3,333.2 816,335.3 C818.7,337.4 821.3,339.6 824,341.6 C826.7,343.6 829.3,345.6 832,347.6 C834.7,349.6 837.3,351.5 840,353.5 C842.7,355.5 845.3,357.4 848,359.5 C850.7,361.5 853.3,363.7 856,365.8 C858.7,368 861.3,370.3 864,372.4 C866.7,374.5 869.3,376.3 872,378.2 C874.7,380 877.3,381.7 880,383.5 C882.7,385.3 885.3,387 888,388.8 C890.7,390.6 893.3,392.5 896,394.1 C898.7,395.8 901.3,397.3 904,398.7 C906.7,400.1 909.3,401.3 912,402.6 C914.7,403.9 917.3,405.2 920,406.5 C922.7,407.9 925.3,409.1 928,410.5 C930.7,411.8 933.3,413 936,414.4 C938.7,415.8 941.3,417.3 944,418.8 C946.7,420.2 949.3,421.7 952,423.1 C954.7,424.6 957.3,426.1 960,427.5 C962.7,429 965.3,430.6 968,431.9 C970.7,433.2 973.3,434.2 976,435.3 C978.7,436.5 981.3,437.5 984,438.5 C986.7,439.6 989.3,440.7 992,441.7 C994.7,442.8 997.3,443.9 1000,444.9 C1002.7,446 1005.3,447.1 1008,448.2 C1010.7,449.2 1013.3,450.3 1016,451.4 C1018.7,452.4 1021.3,453.4 1024,454.7 C1026.7,456 1029.3,457.5 1032,459 C1034.7,460.4 1037.3,461.8 1040,463.2 C1042.7,464.7 1045.3,466.1 1048,467.5 C1050.7,468.9 1053.3,470.4 1056,471.8 C1058.7,473.1 1061.3,474.4 1064,475.8 C1066.7,477.1 1069.3,478.4 1072,479.8 C1074.7,481.1 1077.3,482.5 1080,483.8 C1082.7,485 1085.3,486.2 1088,487.2 C1090.7,488.2 1093.3,488.9 1096,489.8 C1098.7,490.6 1101.3,491.5 1104,492.3 C1106.7,493.2 1109.3,494.1 1112,494.9 C1114.7,495.8 1117.3,496.6 1120,497.5 C1122.7,498.3 1125.3,499.2 1128,500 C1130.7,500.9 1133.3,501.7 1136,502.5 C1138.7,503.4 1141.3,504.2 1144,505 C1146.7,505.8 1149.3,506.7 1152,507.5 C1154.7,508.3 1157.3,509.4 1160,510 C1162.7,510.6 1165.3,511 1168,511.2 C1170.7,511.4 1173.3,511.2 1176,511.2 C1178.7,511.3 1181.3,511.3 1184,511.3 C1186.7,511.3 1189.3,511.3 1192,511.3 C1194.7,511.3 1197.3,511.4 1200,511.2 C1202.7,511 1205.3,510.5 1208,510.2 C1210.7,509.8 1213.3,509.5 1216,509.2 C1218.7,508.8 1221.5,508.5 1224,508.1 C1226.5,507.8 1229.8,507.4 1231,507.2" fill="none" stroke="#000" stroke-width="4" stroke-linecap="butt" stroke-linejoin="round"/>
<linearGradient id="bgrad" gradientUnits="userSpaceOnUse" x1="975" y1="0" x2="1035" y2="0"><stop offset="0" stop-color="#000" stop-opacity="0"/><stop offset="1" stop-color="#000" stop-opacity="0.9"/></linearGradient>
<polygon points="975,404 981,407 987,410 993,413.2 999,416.5 1005,419.7 1011,423 1017,426.2 1023,429.5 1029,433.3 1035,437.1 1041,441 1047,444.8 1053,448.6 1059,451.9 1065,454.8 1071,457.7 1077,460.6 1083,463.5 1089,466.1 1095,468.5 1101,470.9 1107,473.3 1113,475.7 1119,478.1 1125,480.5 1131,481.9 1137,483.3 1143,484.7 1149,486.1 1155,487.5 1161,488 1167,488.6 1173,489.1 1179,489.7 1185,490.2 1191,490.8 1197,491.3 1203,490.8 1209,489.6 1215,488.5 1221,487.4 1227,486.2 1231,485.5 1231,506.5 1227,507 1221,507.8 1215,508.5 1209,509.2 1203,510 1197,510.5 1191,510.5 1185,510.5 1179,510.5 1173,510.5 1167,510.5 1161,509.6 1155,507.7 1149,505.8 1143,503.9 1137,502 1131,500.1 1125,498.2 1119,496.3 1113,494.4 1107,492.5 1101,490.6 1095,488.7 1089,486.8 1083,484.5 1077,481.5 1071,478.5 1065,475.5 1059,472.5 1053,469.4 1047,466.2 1041,463.1 1035,459.9 1029,456.7 1023,453.5 1017,451.1 1011,448.7 1005,446.4 999,444 993,441.6 987,439.2 981,436.9 975,434.5" fill="url(#bgrad)"/>
<path d="M734.2,14 L734.5,100 L735,175" fill="none" stroke="#000" stroke-width="9.5" stroke-linecap="butt" stroke-linejoin="round"/>
<path d="M735,172 C735.2,177.5 735.9,193.7 736.5,205 C737.1,216.3 737.8,230.5 738.5,240 C739.2,249.5 740.6,258.3 741,262" fill="none" stroke="#000" stroke-width="7.5" stroke-linecap="butt" stroke-linejoin="round"/>
</g>
<clipPath id="cc"><rect x="1375.2" y="17" width="500.6" height="523.2"/></clipPath>
<g clip-path="url(#cc)">
<path d="M1376,536 C1376.5,520 1378,471 1379,440 C1380,409 1380.8,378.7 1382,350 C1383.2,321.3 1384.5,291.3 1386,268 C1387.5,244.7 1389.3,225.8 1391,210 C1392.7,194.2 1394.2,184.7 1396,173 C1397.8,161.3 1400,149.5 1402,140 C1404,130.5 1405.3,126.5 1408,116 C1410.7,105.5 1414.5,87.3 1418,77 C1421.5,66.7 1425.5,59.7 1429,54 C1432.5,48.3 1435.5,45.7 1439,43 C1442.5,40.3 1443.7,38.8 1450,38 C1456.3,37.2 1469.7,36.5 1477,38 C1484.3,39.5 1487,43.3 1494,47 C1501,50.7 1511,54.7 1519,60 C1527,65.3 1535,73 1542,79 C1549,85 1554.7,90.2 1561,96 C1567.3,101.8 1574.7,109.2 1580,114 C1585.3,118.8 1588,121.7 1593,125 C1598,128.3 1604.5,131.5 1610,134 C1615.5,136.5 1620.8,138.8 1626,140 C1631.2,141.2 1627.2,141 1641,141 C1654.8,141 1693.8,139.3 1709,140 C1724.2,140.7 1724.2,143.3 1732,145 C1739.8,146.7 1743.7,149.2 1756,150 C1768.3,150.8 1794.3,149.2 1806,150 C1817.7,150.8 1819.2,153 1826,155 C1832.8,157 1839.3,160.3 1847,162 C1854.7,163.7 1867.8,164.5 1872,165" fill="none" stroke="#000" stroke-width="5" stroke-linecap="butt" stroke-linejoin="round"/>
<path d="M1377,536 C1377.7,521.7 1379.5,477.7 1381,450 C1382.5,422.3 1384.2,395 1386,370 C1387.8,345 1389.7,321.7 1392,300 C1394.3,278.3 1397,260 1400,240 C1403,220 1406.7,196.7 1410,180 C1413.3,163.3 1416.7,150.8 1420,140 C1423.3,129.2 1426.5,122 1430,115 C1433.5,108 1437.3,102.5 1441,98 C1444.7,93.5 1447,90.5 1452,88 C1457,85.5 1465,83.5 1471,83 C1477,82.5 1481.8,83.3 1488,85 C1494.2,86.7 1502.2,91 1508,93 C1513.8,95 1517,94.7 1523,97 C1529,99.3 1538,103.3 1544,107 C1550,110.7 1553.5,113.2 1559,119 C1564.5,124.8 1572.2,136.2 1577,142 C1581.8,147.8 1582.7,148 1588,154 C1593.3,160 1603.8,172.3 1609,178 C1614.2,183.7 1613.5,183.5 1619,188 C1624.5,192.5 1634.3,204.3 1642,205 C1649.7,205.7 1657.3,196.3 1665,192 C1672.7,187.7 1681.5,181.3 1688,179 C1694.5,176.7 1693.5,179 1704,178 C1714.5,177 1740.5,174.7 1751,173 C1761.5,171.3 1760.5,168.7 1767,168 C1773.5,167.3 1781.5,168 1790,169 C1798.5,170 1804.3,173.5 1818,174 C1831.7,174.5 1863,172.3 1872,172" fill="none" stroke="#000" stroke-width="5" stroke-linecap="butt" stroke-linejoin="round" stroke-dasharray="24 10"/>
<path d="M1378,536 C1378.7,521.7 1380.5,477.7 1382,450 C1383.5,422.3 1385,395 1387,370 C1389,345 1391.5,321.7 1394,300 C1396.5,278.3 1398.8,261.7 1402,240 C1405.2,218.3 1409.3,185.8 1413,170 C1416.7,154.2 1419.5,151.5 1424,145 C1428.5,138.5 1434,134 1440,131 C1446,128 1453.3,127.7 1460,127 C1466.7,126.3 1473.2,126.7 1480,127 C1486.8,127.3 1494.3,127.3 1501,129 C1507.7,130.7 1512.7,134.3 1520,137 C1527.3,139.7 1537,142.3 1545,145 C1553,147.7 1561.8,149 1568,153 C1574.2,157 1575.8,162.5 1582,169 C1588.2,175.5 1597.8,186.5 1605,192 C1612.2,197.5 1617,199.7 1625,202 C1633,204.3 1644,205.7 1653,206 C1662,206.3 1671.2,205.7 1679,204 C1686.8,202.3 1692.7,198.2 1700,196 C1707.3,193.8 1715,192.7 1723,191 C1731,189.3 1740.2,188 1748,186 C1755.8,184 1762.7,180.7 1770,179 C1777.3,177.3 1784,176.5 1792,176 C1800,175.5 1804.7,176 1818,176 C1831.3,176 1863,176 1872,176" fill="none" stroke="#000" stroke-width="5" stroke-linecap="butt" stroke-linejoin="round" stroke-dasharray="30 9"/>
<path d="M1378,536 C1378.8,520 1381,471 1383,440 C1385,409 1387.5,376.7 1390,350 C1392.5,323.3 1395,301.7 1398,280 C1401,258.3 1404.7,235.3 1408,220 C1411.3,204.7 1414.3,197.7 1418,188 C1421.7,178.3 1425.8,169 1430,162 C1434.2,155 1438,149.5 1443,146 C1448,142.5 1453.8,142 1460,141 C1466.2,140 1473.3,139.7 1480,140 C1486.7,140.3 1494.7,141.7 1500,143 C1505.3,144.3 1508.2,146.2 1512,148 C1515.8,149.8 1515.7,149 1523,154 C1530.3,159 1548.7,172 1556,178 C1563.3,184 1562.8,186 1567,190 C1571.2,194 1573.8,195.3 1581,202 C1588.2,208.7 1603,224.2 1610,230 C1617,235.8 1618.8,235.5 1623,237 C1627.2,238.5 1627.7,240.7 1635,239 C1642.3,237.3 1659.7,230.2 1667,227 C1674.3,223.8 1673.5,221.8 1679,220 C1684.5,218.2 1692.8,217.2 1700,216 C1707.2,214.8 1714.3,215 1722,213 C1729.7,211 1736.8,207.2 1746,204 C1755.2,200.8 1766.7,195.2 1777,194 C1787.3,192.8 1798.5,196.8 1808,197 C1817.5,197.2 1825.7,195.7 1834,195 C1842.3,194.3 1851.7,194.3 1858,193 C1864.3,191.7 1869.7,188 1872,187" fill="none" stroke="#000" stroke-width="5" stroke-linecap="butt" stroke-linejoin="round" stroke-dasharray="26 8 5 8"/>
<path d="M1379,536 C1380,520 1382.7,469.3 1385,440 C1387.3,410.7 1390,385 1393,360 C1396,335 1399.3,310.8 1403,290 C1406.7,269.2 1411,250 1415,235 C1419,220 1422.8,208.8 1427,200 C1431.2,191.2 1435.3,186.2 1440,182 C1444.7,177.8 1449.8,176 1455,175 C1460.2,174 1465.7,174.7 1471,176 C1476.3,177.3 1482.2,180 1487,183 C1491.8,186 1493,189.3 1500,194 C1507,198.7 1522,207.5 1529,211 C1536,214.5 1537.7,213.2 1542,215 C1546.3,216.8 1550.5,219.5 1555,222 C1559.5,224.5 1562,223.5 1569,230 C1576,236.5 1590,253.7 1597,261 C1604,268.3 1606.3,270.3 1611,274 C1615.7,277.7 1620.2,280.7 1625,283 C1629.8,285.3 1634.5,287.2 1640,288 C1645.5,288.8 1651.3,290.2 1658,288 C1664.7,285.8 1672.5,279.2 1680,275 C1687.5,270.8 1694.5,266.2 1703,263 C1711.5,259.8 1721.5,261.2 1731,256 C1740.5,250.8 1748.5,240.8 1760,232 C1771.5,223.2 1787.7,209.7 1800,203 C1812.3,196.3 1822,195.3 1834,192 C1846,188.7 1865.7,184.5 1872,183" fill="none" stroke="#000" stroke-width="5" stroke-linecap="butt" stroke-linejoin="round" stroke-dasharray="26 8 5 8 5 8"/>
<path d="M1379,536 C1380,523.3 1382.5,481 1385,460 C1387.5,439 1391,425.5 1394,410 C1397,394.5 1399.5,384.5 1403,367 C1406.5,349.5 1411.2,318.5 1415,305 C1418.8,291.5 1422.8,291.5 1426,286 C1429.2,280.5 1429.8,277 1434,272 C1438.2,267 1446.3,259 1451,256 C1455.7,253 1457.3,254.2 1462,254 C1466.7,253.8 1469.2,251.8 1479,255 C1488.8,258.2 1511.7,268.8 1521,273 C1530.3,277.2 1529,276.7 1535,280 C1541,283.3 1551.5,289.7 1557,293 C1562.5,296.3 1562,297.2 1568,300 C1574,302.8 1584.8,308.3 1593,310 C1601.2,311.7 1610.8,309.5 1617,310 C1623.2,310.5 1625.5,313 1630,313 C1634.5,313 1638.7,313.7 1644,310 C1649.3,306.3 1653,299.7 1662,291 C1671,282.3 1685,268.2 1698,258 C1711,247.8 1728,238 1740,230 C1752,222 1760,215.2 1770,210 C1780,204.8 1789.2,202 1800,199 C1810.8,196 1823,194.3 1835,192 C1847,189.7 1865.8,186.2 1872,185" fill="none" stroke="#000" stroke-width="5" stroke-linecap="butt" stroke-linejoin="round" stroke-dasharray="24 16"/>
</g>
<clipPath id="ccl"><rect x="1371" y="185" width="65" height="352"/></clipPath>
<g clip-path="url(#ccl)">
<path d="M1377,536 C1377.7,521.7 1379.5,477.7 1381,450 C1382.5,422.3 1384.2,395 1386,370 C1387.8,345 1389.7,321.7 1392,300 C1394.3,278.3 1397,260 1400,240 C1403,220 1406.7,196.7 1410,180 C1413.3,163.3 1416.7,150.8 1420,140 C1423.3,129.2 1426.5,122 1430,115 C1433.5,108 1437.3,102.5 1441,98 C1444.7,93.5 1447,90.5 1452,88 C1457,85.5 1465,83.5 1471,83 C1477,82.5 1481.8,83.3 1488,85 C1494.2,86.7 1502.2,91 1508,93 C1513.8,95 1517,94.7 1523,97 C1529,99.3 1538,103.3 1544,107 C1550,110.7 1553.5,113.2 1559,119 C1564.5,124.8 1572.2,136.2 1577,142 C1581.8,147.8 1582.7,148 1588,154 C1593.3,160 1603.8,172.3 1609,178 C1614.2,183.7 1613.5,183.5 1619,188 C1624.5,192.5 1634.3,204.3 1642,205 C1649.7,205.7 1657.3,196.3 1665,192 C1672.7,187.7 1681.5,181.3 1688,179 C1694.5,176.7 1693.5,179 1704,178 C1714.5,177 1740.5,174.7 1751,173 C1761.5,171.3 1760.5,168.7 1767,168 C1773.5,167.3 1781.5,168 1790,169 C1798.5,170 1804.3,173.5 1818,174 C1831.7,174.5 1863,172.3 1872,172" fill="none" stroke="#000" stroke-width="8" stroke-linecap="butt" stroke-linejoin="round" stroke-dasharray="20 4"/>
<path d="M1378,536 C1378.7,521.7 1380.5,477.7 1382,450 C1383.5,422.3 1385,395 1387,370 C1389,345 1391.5,321.7 1394,300 C1396.5,278.3 1398.8,261.7 1402,240 C1405.2,218.3 1409.3,185.8 1413,170 C1416.7,154.2 1419.5,151.5 1424,145 C1428.5,138.5 1434,134 1440,131 C1446,128 1453.3,127.7 1460,127 C1466.7,126.3 1473.2,126.7 1480,127 C1486.8,127.3 1494.3,127.3 1501,129 C1507.7,130.7 1512.7,134.3 1520,137 C1527.3,139.7 1537,142.3 1545,145 C1553,147.7 1561.8,149 1568,153 C1574.2,157 1575.8,162.5 1582,169 C1588.2,175.5 1597.8,186.5 1605,192 C1612.2,197.5 1617,199.7 1625,202 C1633,204.3 1644,205.7 1653,206 C1662,206.3 1671.2,205.7 1679,204 C1686.8,202.3 1692.7,198.2 1700,196 C1707.3,193.8 1715,192.7 1723,191 C1731,189.3 1740.2,188 1748,186 C1755.8,184 1762.7,180.7 1770,179 C1777.3,177.3 1784,176.5 1792,176 C1800,175.5 1804.7,176 1818,176 C1831.3,176 1863,176 1872,176" fill="none" stroke="#000" stroke-width="8" stroke-linecap="butt" stroke-linejoin="round" stroke-dasharray="16 5"/>
<path d="M1378,536 C1378.8,520 1381,471 1383,440 C1385,409 1387.5,376.7 1390,350 C1392.5,323.3 1395,301.7 1398,280 C1401,258.3 1404.7,235.3 1408,220 C1411.3,204.7 1414.3,197.7 1418,188 C1421.7,178.3 1425.8,169 1430,162 C1434.2,155 1438,149.5 1443,146 C1448,142.5 1453.8,142 1460,141 C1466.2,140 1473.3,139.7 1480,140 C1486.7,140.3 1494.7,141.7 1500,143 C1505.3,144.3 1508.2,146.2 1512,148 C1515.8,149.8 1515.7,149 1523,154 C1530.3,159 1548.7,172 1556,178 C1563.3,184 1562.8,186 1567,190 C1571.2,194 1573.8,195.3 1581,202 C1588.2,208.7 1603,224.2 1610,230 C1617,235.8 1618.8,235.5 1623,237 C1627.2,238.5 1627.7,240.7 1635,239 C1642.3,237.3 1659.7,230.2 1667,227 C1674.3,223.8 1673.5,221.8 1679,220 C1684.5,218.2 1692.8,217.2 1700,216 C1707.2,214.8 1714.3,215 1722,213 C1729.7,211 1736.8,207.2 1746,204 C1755.2,200.8 1766.7,195.2 1777,194 C1787.3,192.8 1798.5,196.8 1808,197 C1817.5,197.2 1825.7,195.7 1834,195 C1842.3,194.3 1851.7,194.3 1858,193 C1864.3,191.7 1869.7,188 1872,187" fill="none" stroke="#000" stroke-width="8" stroke-linecap="butt" stroke-linejoin="round" stroke-dasharray="18 4 6 4"/>
<path d="M1379,536 C1380,520 1382.7,469.3 1385,440 C1387.3,410.7 1390,385 1393,360 C1396,335 1399.3,310.8 1403,290 C1406.7,269.2 1411,250 1415,235 C1419,220 1422.8,208.8 1427,200 C1431.2,191.2 1435.3,186.2 1440,182 C1444.7,177.8 1449.8,176 1455,175 C1460.2,174 1465.7,174.7 1471,176 C1476.3,177.3 1482.2,180 1487,183 C1491.8,186 1493,189.3 1500,194 C1507,198.7 1522,207.5 1529,211 C1536,214.5 1537.7,213.2 1542,215 C1546.3,216.8 1550.5,219.5 1555,222 C1559.5,224.5 1562,223.5 1569,230 C1576,236.5 1590,253.7 1597,261 C1604,268.3 1606.3,270.3 1611,274 C1615.7,277.7 1620.2,280.7 1625,283 C1629.8,285.3 1634.5,287.2 1640,288 C1645.5,288.8 1651.3,290.2 1658,288 C1664.7,285.8 1672.5,279.2 1680,275 C1687.5,270.8 1694.5,266.2 1703,263 C1711.5,259.8 1721.5,261.2 1731,256 C1740.5,250.8 1748.5,240.8 1760,232 C1771.5,223.2 1787.7,209.7 1800,203 C1812.3,196.3 1822,195.3 1834,192 C1846,188.7 1865.7,184.5 1872,183" fill="none" stroke="#000" stroke-width="8" stroke-linecap="butt" stroke-linejoin="round" stroke-dasharray="14 4 5 4"/>
</g>
<polygon points="1373,536.5 1373,330 1380,318 1392,318 1406,332 1403,359 1400.5,385 1399,412 1395,438 1391,465 1388.6,491 1386,517 1385,536.5" fill="#000"/>
<clipPath id="cd"><rect x="107.2" y="715.6" width="500.8" height="517.4"/></clipPath>
<g clip-path="url(#cd)">
<path d="M107,1060 C107.8,1057.7 110.3,1050.7 112,1046 C113.7,1041.3 115.4,1036.8 117,1032 C118.6,1027.2 119.9,1022.3 121.5,1017 C123.1,1011.7 124.9,1008 126.7,1000 C128.5,992 130.3,978.8 132.5,969 C134.7,959.2 137.8,950.5 140,941 C142.2,931.5 144.1,921 146,912 C147.9,903 149.4,895 151.6,887 C153.8,879 156.4,872 159,864 C161.6,856 164.2,847 167,839 C169.8,831 173.2,823.8 176,816 C178.8,808.2 180.5,799.5 184,792 C187.5,784.5 192.2,775.8 197,771 C201.8,766.2 207.9,763.3 212.7,763 C217.5,762.7 221.8,765.8 226,769 C230.2,772.2 234.1,777.3 237.6,782 C241.1,786.7 243.8,791 247,797 C250.2,803 253.9,811 256.7,818 C259.5,825 261.4,832.3 264,839 C266.6,845.7 269.3,851.5 272,858 C274.7,864.5 277.5,870.3 280,878 C282.5,885.7 284.5,896.5 287,904 C289.5,911.5 292.4,916.2 295,923 C297.6,929.8 299.7,937.7 302.5,944.5 C305.3,951.3 308.8,957.6 312,964 C315.2,970.4 318.8,977 321.6,983 C324.4,989 325.1,991.3 329,1000 C332.9,1008.7 339.8,1024.2 345,1035 C350.2,1045.8 354.2,1054.2 360,1065 C365.8,1075.8 373.3,1089.2 380,1100 C386.7,1110.8 391.7,1119.2 400,1130 C408.3,1140.8 420,1155 430,1165 C440,1175 448.3,1182.5 460,1190 C471.7,1197.5 485,1204.7 500,1210 C515,1215.3 532.7,1219 550,1222 C567.3,1225 595,1227 604,1228" fill="none" stroke="#000" stroke-width="4.5" stroke-linecap="butt" stroke-linejoin="round"/>
<path d="M107,1098.9 C107.8,1096.3 110.3,1088.8 112,1083.1 C113.7,1077.4 115.4,1070.3 117,1064.8 C118.6,1059.3 119.9,1055 121.5,1050 C123.1,1045.1 124.9,1041.8 126.7,1035.2 C128.5,1028.6 130.3,1018.8 132.5,1010.3 C134.7,1001.9 137.8,992.8 140,984.6 C142.2,976.5 144.1,969.1 146,961.4 C147.9,953.7 149.4,945.8 151.6,938.4 C153.8,931 156.4,924 159,916.9 C161.6,909.7 164.2,902.3 167,895.4 C169.8,888.5 173.2,881.3 176,875.4 C178.8,869.4 180.5,864.6 184,859.9 C187.5,855.2 191.2,850.1 197,847.3 C202.8,844.5 212.7,842.9 218.7,843 C224.7,843.1 228.4,845.4 232.8,848 C237.1,850.6 241.2,854.9 244.8,858.8 C248.4,862.6 251.2,866.2 254.5,871.2 C257.7,876.2 261.5,882.8 264.3,888.6 C267.2,894.4 269.1,900.5 271.7,906.1 C274.3,911.6 277.1,916.4 279.8,921.8 C282.5,927.2 285.3,932.1 287.9,938.4 C290.4,944.8 292.4,953.8 294.9,960 C297.5,966.2 300.4,970.2 303.1,975.8 C305.7,981.4 307.8,987.9 310.7,993.6 C313.6,999.3 317.2,1004.5 320.4,1009.8 C323.7,1015.1 327.4,1020.6 330.4,1025.6 C333.3,1030.5 334,1032.5 338,1039.7 C342.1,1046.9 349.3,1059.7 354.8,1068.7 C360.2,1077.7 364.4,1084.6 370.6,1093.6 C376.8,1102.6 384.7,1113.6 391.8,1122.6 C398.9,1131.6 404.3,1138.5 413.2,1147.5 C422.1,1156.5 434.5,1168.3 445.2,1176.6 C455.9,1184.9 464.8,1191.1 477.3,1197.3 C489.8,1203.5 504.1,1209.5 520.1,1213.9 C536.2,1218.3 555.1,1221.4 573.6,1223.9 C592.2,1226.4 621.8,1228 631.4,1228.9" fill="none" stroke="#000" stroke-width="4.5" stroke-linecap="butt" stroke-linejoin="round" stroke-dasharray="28 12"/>
<path d="M107,1109.7 C107.8,1106.9 110.3,1099.3 112,1093.3 C113.7,1087.3 115.4,1079.5 117,1073.8 C118.6,1068.1 119.9,1063.9 121.5,1059.1 C123.1,1054.3 124.9,1051.2 126.7,1044.9 C128.5,1038.7 130.3,1029.7 132.5,1021.7 C134.7,1013.6 137.8,1004.4 140,996.6 C142.2,988.8 144.1,982.4 146,975 C147.9,967.7 149.4,959.8 151.6,952.5 C153.8,945.3 156.4,938.3 159,931.4 C161.6,924.4 164.2,917.5 167,910.9 C169.8,904.3 173.2,897.1 176,891.7 C178.8,886.3 180.5,882.4 184,878.5 C187.5,874.7 191.6,870.6 197,868.3 C202.4,866 211.1,864.8 216.7,865 C222.3,865.2 226.3,867.2 230.6,869.7 C234.9,872.2 238.9,876.2 242.5,879.9 C246.1,883.5 248.9,886.9 252.1,891.6 C255.3,896.3 259.1,902.6 261.9,908.1 C264.8,913.5 266.7,919.3 269.3,924.5 C271.9,929.7 274.7,934.3 277.4,939.4 C280.1,944.5 282.9,949 285.5,955 C288,961 290,969.5 292.5,975.4 C295.1,981.3 298,985 300.7,990.3 C303.3,995.6 305.4,1001.8 308.3,1007.1 C311.2,1012.5 314.7,1017.4 318,1022.4 C321.2,1027.4 324.9,1032.6 327.8,1037.3 C330.7,1042 331.4,1043.8 335.4,1050.6 C339.4,1057.4 346.6,1069.5 352,1078 C357.3,1086.5 361.5,1093 367.6,1101.5 C373.6,1109.9 381.5,1120.4 388.4,1128.9 C395.4,1137.3 400.7,1143.9 409.4,1152.4 C418.1,1160.8 430.4,1171.9 440.9,1179.8 C451.4,1187.6 460.1,1193.5 472.4,1199.3 C484.6,1205.2 498.6,1210.8 514.4,1215 C530.1,1219.2 548.7,1222 566.9,1224.4 C585.1,1226.7 614.1,1228.3 623.6,1229.1" fill="none" stroke="#000" stroke-width="5" stroke-linecap="butt" stroke-linejoin="round" stroke-dasharray="40 5"/>
<path d="M107,1121.3 C107.8,1118.5 110.3,1110.7 112,1104.4 C113.7,1098.2 115.4,1089.6 117,1083.7 C118.6,1077.8 119.9,1073.7 121.5,1069 C123.1,1064.3 124.9,1061.3 126.7,1055.5 C128.5,1049.7 130.3,1041.7 132.5,1034.1 C134.7,1026.4 137.8,1017.1 140,1009.7 C142.2,1002.3 144.1,996.8 146,989.9 C147.9,982.9 149.4,975.1 151.6,968 C153.8,960.9 156.4,953.9 159,947.2 C161.6,940.5 164.2,934.1 167,927.8 C169.8,921.5 173.2,914.3 176,909.5 C178.8,904.7 180.5,902 184,898.9 C187.5,895.9 192.5,892.8 197,891.2 C201.5,889.5 206.2,888.6 210.7,889 C215.2,889.4 219.9,891.1 224.1,893.4 C228.2,895.7 232.2,899.5 235.8,902.9 C239.3,906.3 242.1,909.5 245.3,913.9 C248.5,918.3 252.3,924.1 255.2,929.3 C258.1,934.4 260,939.7 262.6,944.6 C265.2,949.5 268.1,953.8 270.8,958.5 C273.5,963.3 276.4,967.6 278.9,973.2 C281.5,978.8 283.5,986.7 286.1,992.2 C288.6,997.7 291.6,1001.2 294.2,1006.1 C296.9,1011 299,1016.8 301.9,1021.8 C304.7,1026.8 308.3,1031.4 311.5,1036.1 C314.7,1040.8 318.4,1045.6 321.2,1050 C324.1,1054.4 324.8,1056.1 328.7,1062.5 C332.6,1068.8 339.6,1080.2 344.8,1088.1 C350,1096 354,1102.1 359.9,1110 C365.8,1118 373.3,1127.7 380,1135.7 C386.6,1143.6 391.6,1149.7 400,1157.6 C408.3,1165.5 420,1175.9 430,1183.2 C440,1190.5 448.3,1196 460,1201.5 C471.7,1207 485,1212.3 500,1216.2 C515,1220.1 532.7,1222.8 550,1224.9 C567.3,1227.1 595,1228.6 604,1229.3" fill="none" stroke="#000" stroke-width="4.5" stroke-linecap="butt" stroke-linejoin="round" stroke-dasharray="24 8 5 8"/>
<path d="M107,1128.2 C107.8,1125.3 110.3,1117.4 112,1110.9 C113.7,1104.5 115.4,1095.4 117,1089.4 C118.6,1083.4 119.9,1079.4 121.5,1074.8 C123.1,1070.2 124.9,1067.2 126.7,1061.7 C128.5,1056.1 130.3,1048.7 132.5,1041.3 C134.7,1033.9 137.8,1024.5 140,1017.3 C142.2,1010.2 144.1,1005.2 146,998.5 C147.9,991.8 149.4,984 151.6,977 C153.8,970 156.4,963 159,956.5 C161.6,949.9 164.2,943.8 167,937.6 C169.8,931.5 173.2,924.4 176,919.9 C178.8,915.4 180.5,913.3 184,910.8 C187.5,908.2 191.9,905.9 197,904.6 C202.1,903.3 209.5,902.6 214.7,903 C219.9,903.4 223.8,905 227.9,907.2 C232.1,909.4 236,913.1 239.4,916.3 C242.9,919.6 245.6,922.7 248.7,926.9 C251.8,931.1 255.4,936.7 258.2,941.6 C261,946.5 262.9,951.7 265.4,956.4 C267.9,961 270.6,965.1 273.2,969.7 C275.8,974.3 278.6,978.4 281.1,983.7 C283.5,989.1 285.5,996.7 287.9,1002 C290.4,1007.3 293.2,1010.6 295.8,1015.3 C298.3,1020.1 300.4,1025.6 303.1,1030.4 C305.9,1035.2 309.4,1039.6 312.5,1044.1 C315.6,1048.6 319.2,1053.3 322,1057.5 C324.8,1061.7 325.4,1063.3 329.3,1069.4 C333.2,1075.5 340,1086.4 345.2,1094 C350.3,1101.6 354.3,1107.4 360.1,1115 C365.9,1122.6 373.4,1132 380,1139.6 C386.7,1147.2 391.7,1153.1 400,1160.7 C408.3,1168.3 420,1178.2 430,1185.3 C440,1192.3 448.3,1197.5 460,1202.8 C471.7,1208.1 485,1213.1 500,1216.9 C515,1220.6 532.7,1223.2 550,1225.3 C567.3,1227.4 595,1228.8 604,1229.5" fill="none" stroke="#000" stroke-width="4.5" stroke-linecap="butt" stroke-linejoin="round" stroke-dasharray="20 7"/>
<path d="M107,1134 C107.8,1131.1 110.3,1123.1 112,1116.5 C113.7,1109.9 115.4,1100.5 117,1094.3 C118.6,1088.2 119.9,1084.3 121.5,1079.8 C123.1,1075.2 124.9,1072.3 126.7,1066.9 C128.5,1061.6 130.3,1054.7 132.5,1047.5 C134.7,1040.3 137.8,1030.8 140,1023.9 C142.2,1016.9 144.1,1012.5 146,1005.9 C147.9,999.4 149.4,991.6 151.6,984.7 C153.8,977.7 156.4,970.8 159,964.4 C161.6,958 164.2,952 167,946.1 C169.8,940.2 173.2,933 176,928.8 C178.8,924.6 180.5,923.1 184,921 C187.5,918.8 193,917 197,916 C201,915 203.7,914.5 207.7,915 C211.7,915.5 216.9,916.9 221.1,919.1 C225.4,921.2 229.4,924.7 233,927.9 C236.6,931 239.5,933.9 242.8,938 C246.1,942.1 249.9,947.5 252.9,952.2 C255.9,956.9 257.9,961.9 260.6,966.4 C263.2,970.9 266.2,974.9 269,979.3 C271.8,983.7 274.7,987.6 277.4,992.8 C280,998 282.1,1005.3 284.7,1010.4 C287.3,1015.5 290.4,1018.7 293.1,1023.3 C295.8,1027.8 298,1033.2 300.9,1037.8 C303.8,1042.4 307.5,1046.7 310.8,1051 C314,1055.3 317.7,1059.8 320.7,1063.9 C323.6,1067.9 324.3,1069.5 328.3,1075.4 C332.2,1081.2 339.3,1091.7 344.6,1099 C349.8,1106.4 353.9,1112 359.8,1119.3 C365.6,1126.7 373.2,1135.7 379.9,1143 C386.6,1150.3 391.6,1156 400,1163.3 C408.3,1170.6 420,1180.2 430,1187 C440,1193.8 448.3,1198.8 460,1203.9 C471.7,1209 485,1213.8 500,1217.4 C515,1221 532.7,1223.5 550,1225.6 C567.3,1227.6 595,1228.9 604,1229.6" fill="none" stroke="#000" stroke-width="4.5" stroke-linecap="butt" stroke-linejoin="round" stroke-dasharray="16 6 4 6"/>
</g>
<rect x="464.5" y="715.5" width="143.0" height="147.60000000000002" fill="#fff" stroke="#000" stroke-width="2.6"/>
<line x1="461.5" y1="726.6" x2="467.5" y2="726.6" stroke="#000" stroke-width="1.6"/>
<line x1="461.5" y1="750" x2="467.5" y2="750" stroke="#000" stroke-width="1.6"/>
<line x1="461.5" y1="772.9" x2="467.5" y2="772.9" stroke="#000" stroke-width="1.6"/>
<line x1="461.5" y1="796" x2="467.5" y2="796" stroke="#000" stroke-width="1.6"/>
<line x1="461.5" y1="819.1" x2="467.5" y2="819.1" stroke="#000" stroke-width="1.6"/>
<line x1="461.5" y1="842" x2="467.5" y2="842" stroke="#000" stroke-width="1.6"/>
<line x1="476" y1="860.1" x2="476" y2="866.1" stroke="#000" stroke-width="1.6"/>
<line x1="498.8" y1="860.1" x2="498.8" y2="866.1" stroke="#000" stroke-width="1.6"/>
<line x1="521.9" y1="860.1" x2="521.9" y2="866.1" stroke="#000" stroke-width="1.6"/>
<line x1="547.4" y1="860.1" x2="547.4" y2="866.1" stroke="#000" stroke-width="1.6"/>
<line x1="571.3" y1="860.1" x2="571.3" y2="866.1" stroke="#000" stroke-width="1.6"/>
<line x1="594.4" y1="860.1" x2="594.4" y2="866.1" stroke="#000" stroke-width="1.6"/>
<text x="456.5" y="730.6" font-size="12" text-anchor="end" textLength="18" lengthAdjust="spacingAndGlyphs">255</text>
<text x="456.5" y="754" font-size="12" text-anchor="end" textLength="18" lengthAdjust="spacingAndGlyphs">254</text>
<text x="456.5" y="776.9" font-size="12" text-anchor="end" textLength="18" lengthAdjust="spacingAndGlyphs">253</text>
<text x="456.5" y="800" font-size="12" text-anchor="end" textLength="18" lengthAdjust="spacingAndGlyphs">252</text>
<text x="456.5" y="823.1" font-size="12" text-anchor="end" textLength="18" lengthAdjust="spacingAndGlyphs">251</text>
<text x="456.5" y="846" font-size="12" text-anchor="end" textLength="18" lengthAdjust="spacingAndGlyphs">250</text>
<text x="456.5" y="867" font-size="12" text-anchor="end" textLength="18" lengthAdjust="spacingAndGlyphs">249</text>
<text x="476" y="880.5" font-size="12" text-anchor="middle">0</text>
<text x="498.8" y="880.5" font-size="12" text-anchor="middle">100</text>
<text x="521.9" y="880.5" font-size="12" text-anchor="middle">200</text>
<text x="547.4" y="880.5" font-size="12" text-anchor="middle">300</text>
<text x="571.3" y="880.5" font-size="12" text-anchor="middle">400</text>
<text x="594.4" y="880.5" font-size="12" text-anchor="middle">500</text>
<text x="535.7" y="902.5" font-size="13" text-anchor="middle" textLength="83" lengthAdjust="spacingAndGlyphs">Taurine, mM</text>
<text transform="translate(421,825) rotate(-90)" x="0" y="0" font-size="22" text-anchor="start">&#955;<tspan font-size="17" dy="10" textLength="36" lengthAdjust="spacingAndGlyphs">max</tspan></text>
<polyline points="476,726.6 594.4,842" fill="none" stroke="#000" stroke-width="1.6"/>
<polygon points="476,722.6 472,729.6 480,729.6" fill="#000"/>
<polygon points="594.4,838 590.4,845 598.4,845" fill="#000"/>
<rect x="496.3" y="746.5" width="5" height="5" fill="#000"/>
<rect x="519.4" y="769.5" width="5" height="5" fill="#000"/>
<rect x="544.9" y="792.5" width="5" height="5" fill="#000"/>
<rect x="568.8" y="815.5" width="5" height="5" fill="#000"/>
<clipPath id="ce"><rect x="731.7" y="712.8" width="499" height="515.4"/></clipPath>
<g clip-path="url(#ce)">
<line x1="731.7" y1="1185.3" x2="1230.7" y2="712.8" stroke="#000" stroke-width="1.9"/>
<line x1="731.7" y1="1185.3" x2="1230.7" y2="881.7" stroke="#000" stroke-width="1.9"/>
</g>
<line x1="814.5" y1="1096" x2="814.5" y2="1100" stroke="#000" stroke-width="2.3"/>
<line x1="802.5" y1="1096" x2="826.5" y2="1096" stroke="#000" stroke-width="2.6" stroke-linecap="round"/>
<line x1="802.5" y1="1100" x2="826.5" y2="1100" stroke="#000" stroke-width="2.6" stroke-linecap="round"/>
<line x1="898" y1="1026.5" x2="898" y2="1032" stroke="#000" stroke-width="2.3"/>
<line x1="886" y1="1026.5" x2="910" y2="1026.5" stroke="#000" stroke-width="2.6" stroke-linecap="round"/>
<line x1="886" y1="1032" x2="910" y2="1032" stroke="#000" stroke-width="2.6" stroke-linecap="round"/>
<line x1="981" y1="945.2" x2="981" y2="965.9" stroke="#000" stroke-width="2.3"/>
<line x1="969" y1="945.2" x2="993" y2="945.2" stroke="#000" stroke-width="2.6" stroke-linecap="round"/>
<line x1="969" y1="965.9" x2="993" y2="965.9" stroke="#000" stroke-width="2.6" stroke-linecap="round"/>
<line x1="1064.5" y1="863.8" x2="1064.5" y2="896.3" stroke="#000" stroke-width="2.3"/>
<line x1="1053" y1="863.8" x2="1076" y2="863.8" stroke="#000" stroke-width="2.6" stroke-linecap="round"/>
<line x1="1053" y1="896.3" x2="1076" y2="896.3" stroke="#000" stroke-width="2.6" stroke-linecap="round"/>
<line x1="1146.5" y1="766.1" x2="1146.5" y2="801.1" stroke="#000" stroke-width="2.3"/>
<line x1="1135" y1="766.1" x2="1158" y2="766.1" stroke="#000" stroke-width="2.6" stroke-linecap="round"/>
<line x1="1135" y1="801.1" x2="1158" y2="801.1" stroke="#000" stroke-width="2.6" stroke-linecap="round"/>
<line x1="1146" y1="915" x2="1146" y2="942.6" stroke="#000" stroke-width="2.3"/>
<line x1="1140.5" y1="915" x2="1151.5" y2="915" stroke="#000" stroke-width="2.6" stroke-linecap="round"/>
<line x1="1140.5" y1="942.6" x2="1151.5" y2="942.6" stroke="#000" stroke-width="2.6" stroke-linecap="round"/>
<polygon points="814.5,1087.6 802.5,1107.6 826.5,1107.6" fill="#000"/>
<polygon points="898,1022.9 886,1042.9 910,1042.9" fill="#000"/>
<polygon points="981,945 969,965 993,965" fill="#000"/>
<polygon points="1064,864.7 1052,884.7 1076,884.7" fill="#000"/>
<polygon points="1147.5,770.5 1135.5,790.5 1159.5,790.5" fill="#000"/>
<circle cx="814.1" cy="1132.3" r="8.8" fill="#000"/>
<circle cx="897.6" cy="1084.7" r="9" fill="#000"/>
<circle cx="981.1" cy="1033.5" r="9.2" fill="#000"/>
<circle cx="1063.3" cy="984.5" r="9.8" fill="#000"/>
<circle cx="1145.8" cy="927.2" r="8.2" fill="#000"/>
<circle cx="1070.7" cy="1148.2" r="10" fill="#000"/>
<polygon points="1071,1171.9 1059.2,1192.1 1082.8,1192.1" fill="#000"/>
<text x="1145" y="1157.5" font-size="27" text-anchor="middle" textLength="63" lengthAdjust="spacingAndGlyphs">0 mM</text>
<text x="1158.7" y="1192" font-size="27" text-anchor="middle" textLength="86.5" lengthAdjust="spacingAndGlyphs">500 mM</text>
<clipPath id="cf"><rect x="1371.7" y="713.2" width="501.9" height="515"/></clipPath>
<g clip-path="url(#cf)">
<path d="M1372,1226 C1374.7,1225.3 1383.3,1224.5 1388,1222 C1392.7,1219.5 1396.3,1216.3 1400,1211 C1403.7,1205.7 1406.7,1198.2 1410,1190 C1413.3,1181.8 1416.7,1171.5 1420,1162 C1423.3,1152.5 1426.7,1142.7 1430,1133 C1433.3,1123.3 1437.2,1112.8 1440,1104 C1442.8,1095.2 1444.5,1089.3 1447,1080 C1449.5,1070.7 1452.2,1060 1455,1048 C1457.8,1036 1460.9,1019.2 1464,1008 C1467.1,996.8 1470.7,990.3 1473.5,981 C1476.3,971.7 1478.4,961.7 1481,952 C1483.6,942.3 1486.4,932.7 1489,923 C1491.6,913.3 1493.9,903.5 1496.4,894 C1498.9,884.5 1501.1,875.3 1504,866 C1506.9,856.7 1511,845.7 1513.6,838 C1516.1,830.3 1517.1,826 1519.3,820 C1521.5,814 1523.9,807 1527,802 C1530.1,797 1534.2,792.3 1538,790 C1541.8,787.7 1546.2,788 1550,788 C1553.8,788 1558,788.7 1561,790 C1564,791.3 1565.3,793 1568,796 C1570.7,799 1573.7,803.2 1577,808 C1580.3,812.8 1584.8,818.6 1588,825 C1591.2,831.4 1593.2,839.7 1596,846.5 C1598.8,853.3 1601.5,858.9 1605,866 C1608.5,873.1 1613.5,881.2 1617,889 C1620.5,896.8 1622.8,905.2 1626,913 C1629.2,920.8 1632.8,929.2 1636,936 C1639.2,942.8 1642.2,946.8 1645,954 C1647.8,961.2 1649.8,970.8 1653,979 C1656.2,987.2 1660.7,994.5 1664.5,1003 C1668.3,1011.5 1671.2,1017.2 1676,1030 C1680.8,1042.8 1687,1066.3 1693,1080 C1699,1093.7 1706.2,1102.8 1712,1112 C1717.8,1121.2 1722.3,1127.5 1728,1135 C1733.7,1142.5 1739.7,1150.3 1746,1157 C1752.3,1163.7 1759.5,1169.5 1766,1175 C1772.5,1180.5 1779.3,1185.8 1785,1190 C1790.7,1194.2 1792.5,1196.8 1800,1200 C1807.5,1203.2 1821,1206.5 1830,1209 C1839,1211.5 1847.5,1213.7 1854,1215 C1860.5,1216.3 1866.5,1216.7 1869,1217" fill="none" stroke="#000" stroke-width="4.5" stroke-linecap="butt" stroke-linejoin="round"/>
<path d="M1371.4,1226.1 C1374.1,1225.5 1382.6,1224.7 1387.2,1222.3 C1391.8,1219.9 1395.4,1216.9 1399,1211.8 C1402.6,1206.7 1405.5,1199.5 1408.8,1191.7 C1412.1,1183.9 1415.3,1174.1 1418.6,1165 C1421.8,1155.9 1425.1,1146.5 1428.4,1137.3 C1431.6,1128.1 1435.3,1118 1438.1,1109.6 C1440.9,1101.2 1442.5,1095.6 1444.9,1086.7 C1447.4,1077.8 1450,1067.6 1452.7,1056.1 C1455.5,1044.6 1458.5,1028.6 1461.5,1017.9 C1464.5,1007.2 1468,1001 1470.7,992.1 C1473.5,983.2 1475.5,973.7 1478,964.4 C1480.5,955.2 1483.3,946 1485.8,936.7 C1488.3,927.5 1490.6,918.1 1493.1,909 C1495.5,900 1497.7,891.2 1500.5,882.3 C1503.3,873.4 1507.4,862.9 1509.9,855.6 C1512.4,848.2 1513.3,844.1 1515.5,838.4 C1517.7,832.6 1520,826 1523.1,821.2 C1526.2,816.4 1530.2,811.9 1534,809.7 C1537.8,807.5 1542.2,807.8 1546,807.8 C1549.8,807.8 1554,808.4 1557,809.7 C1560,811 1561.4,812.6 1564.1,815.4 C1566.8,818.3 1569.8,822.3 1573.2,826.9 C1576.6,831.5 1581.1,837 1584.3,843.1 C1587.6,849.3 1589.6,857.2 1592.5,863.7 C1595.4,870.2 1598.1,875.5 1601.7,882.3 C1605.3,889.1 1610.4,896.8 1614,904.3 C1617.6,911.7 1619.9,919.7 1623.2,927.2 C1626.4,934.7 1630.2,942.6 1633.5,949.1 C1636.7,955.7 1639.8,959.5 1642.7,966.3 C1645.6,973.2 1647.6,982.4 1650.9,990.2 C1654.3,998 1658.8,1005 1662.7,1013.1 C1666.6,1021.3 1669.6,1026.7 1674.5,1038.9 C1679.4,1051.2 1685.7,1073.6 1691.9,1086.7 C1698,1099.7 1705.3,1108.5 1711.2,1117.2 C1717.1,1126 1721.7,1132 1727.4,1139.2 C1733.2,1146.4 1739.2,1153.8 1745.6,1160.2 C1752,1166.6 1759.2,1172.1 1765.8,1177.4 C1772.3,1182.6 1779.2,1187.7 1784.9,1191.7 C1790.6,1195.7 1792.4,1198.2 1799.9,1201.3 C1807.4,1204.3 1821,1207.5 1830,1209.9 C1839,1212.3 1847.5,1214.3 1854,1215.6 C1860.5,1216.9 1866.5,1217.2 1869,1217.5" fill="none" stroke="#000" stroke-width="4.5" stroke-linecap="butt" stroke-linejoin="round" stroke-dasharray="30 6"/>
<path d="M1372.3,1226.2 C1375,1225.6 1383.7,1224.9 1388.4,1222.7 C1393.1,1220.4 1396.8,1217.6 1400.5,1212.8 C1404.2,1208 1407.2,1201.3 1410.6,1194 C1414,1186.7 1417.3,1177.5 1420.7,1169 C1424.1,1160.4 1427.4,1151.6 1430.8,1143 C1434.2,1134.3 1438.1,1124.9 1440.9,1117 C1443.8,1109.1 1445.5,1103.9 1448,1095.6 C1450.6,1087.2 1453.3,1077.7 1456.1,1066.9 C1459,1056.2 1462.1,1041.1 1465.3,1031.1 C1468.4,1021.1 1472,1015.3 1474.9,1007 C1477.8,998.6 1479.9,989.7 1482.5,981 C1485.1,972.3 1488,963.7 1490.6,955 C1493.2,946.4 1495.5,937.6 1498.1,929.1 C1500.6,920.6 1502.9,912.4 1505.8,904 C1508.6,895.7 1512.9,885.8 1515.4,879 C1518,872.1 1518.9,868.2 1521.2,862.9 C1523.4,857.5 1525.8,851.2 1528.9,846.8 C1532.1,842.3 1536.1,838.1 1540,836 C1543.8,833.9 1548.2,834.2 1552,834.2 C1555.8,834.2 1560,834.8 1563,836 C1566,837.2 1567.3,838.7 1570,841.4 C1572.6,844.1 1575.6,847.8 1578.9,852.1 C1582.2,856.4 1586.7,861.6 1589.8,867.3 C1593,873.1 1595,880.5 1597.8,886.6 C1600.6,892.7 1603.2,897.7 1606.7,904 C1610.1,910.4 1615.1,917.6 1618.5,924.6 C1622,931.6 1624.3,939.1 1627.4,946.1 C1630.5,953.1 1634.1,960.6 1637.3,966.7 C1640.4,972.8 1643.4,976.4 1646.1,982.8 C1648.9,989.2 1650.8,997.9 1654,1005.2 C1657.2,1012.5 1661.6,1019 1665.4,1026.6 C1669.2,1034.3 1672.1,1039.3 1676.8,1050.8 C1681.4,1062.3 1687.6,1083.3 1693.6,1095.6 C1699.5,1107.8 1706.6,1116 1712.4,1124.2 C1718.2,1132.4 1722.7,1138.1 1728.3,1144.8 C1733.9,1151.5 1739.9,1158.5 1746.2,1164.5 C1752.5,1170.4 1759.6,1175.7 1766.1,1180.6 C1772.6,1185.5 1779.4,1190.3 1785.1,1194 C1790.7,1197.7 1792.6,1200.1 1800,1203 C1807.5,1205.8 1821,1208.8 1830,1211 C1839,1213.3 1847.5,1215.2 1854,1216.4 C1860.5,1217.6 1866.5,1217.9 1869,1218.2" fill="none" stroke="#000" stroke-width="4.5" stroke-linecap="butt" stroke-linejoin="round" stroke-dasharray="24 8"/>
<path d="M1370.6,1226.3 C1373.2,1225.8 1381.5,1225.1 1386,1222.9 C1390.5,1220.8 1394,1218.1 1397.5,1213.6 C1401,1209 1403.9,1202.7 1407,1195.7 C1410.2,1188.8 1413.3,1180 1416.5,1171.9 C1419.6,1163.9 1422.8,1155.5 1425.9,1147.3 C1429,1139.1 1432.6,1130.1 1435.3,1122.6 C1437.9,1115.1 1439.5,1110.2 1441.8,1102.2 C1444.1,1094.3 1446.6,1085.2 1449.3,1075 C1451.9,1064.8 1454.8,1050.5 1457.7,1041 C1460.5,1031.5 1463.9,1026 1466.5,1018.1 C1469.2,1010.1 1471.1,1001.6 1473.5,993.4 C1476,985.2 1478.6,977 1481.1,968.8 C1483.5,960.6 1485.7,952.2 1488,944.1 C1490.4,936.1 1492.5,928.3 1495.2,920.3 C1498,912.4 1501.9,903 1504.4,896.5 C1506.8,890 1507.7,886.3 1509.9,881.2 C1512,876.1 1514.3,870.2 1517.3,865.9 C1520.4,861.7 1524.3,857.7 1528.1,855.7 C1531.9,853.7 1536.2,854 1540,854 C1543.8,854 1548,854.6 1551.1,855.7 C1554.1,856.9 1555.5,858.3 1558.2,860.8 C1560.9,863.4 1564,866.9 1567.4,871 C1570.9,875.1 1575.6,880 1578.9,885.5 C1582.2,890.9 1584.2,897.9 1587.2,903.8 C1590.2,909.6 1593,914.3 1596.7,920.3 C1600.4,926.4 1605.7,933.2 1609.4,939.9 C1613.1,946.5 1615.6,953.6 1619,960.3 C1622.4,966.9 1626.3,974 1629.7,979.8 C1633,985.6 1636.2,989 1639.3,995.1 C1642.3,1001.2 1644.3,1009.4 1647.8,1016.4 C1651.3,1023.3 1656,1029.6 1660,1036.8 C1664.1,1044 1667.2,1048.8 1672.2,1059.7 C1677.3,1070.6 1683.9,1090.6 1690.2,1102.2 C1696.5,1113.8 1704,1121.6 1710,1129.4 C1716.1,1137.2 1720.7,1142.6 1726.6,1149 C1732.4,1155.4 1738.6,1162 1745.1,1167.7 C1751.5,1173.3 1758.8,1178.3 1765.4,1183 C1772,1187.7 1778.9,1192.2 1784.7,1195.7 C1790.4,1199.3 1792.2,1201.5 1799.8,1204.2 C1807.3,1206.9 1820.9,1209.8 1829.9,1211.9 C1839,1214 1847.5,1215.8 1854,1217 C1860.5,1218.1 1866.5,1218.4 1869,1218.7" fill="none" stroke="#000" stroke-width="4.5" stroke-linecap="butt" stroke-linejoin="round" stroke-dasharray="20 7 5 7"/>
<path d="M1372.8,1226.5 C1375.6,1226 1384.4,1225.4 1389.2,1223.4 C1394,1221.5 1397.7,1219.1 1401.5,1215 C1405.3,1210.8 1408.4,1205.1 1411.8,1198.8 C1415.2,1192.5 1418.7,1184.5 1422.1,1177.2 C1425.6,1169.9 1429,1162.3 1432.5,1154.9 C1435.9,1147.5 1439.9,1139.4 1442.8,1132.6 C1445.8,1125.8 1447.5,1121.3 1450.1,1114.1 C1452.7,1106.9 1455.5,1098.7 1458.4,1089.4 C1461.4,1080.2 1464.6,1067.2 1467.8,1058.6 C1471,1050 1474.7,1045 1477.7,1037.9 C1480.6,1030.7 1482.8,1023 1485.5,1015.5 C1488.2,1008.1 1491.1,1000.6 1493.8,993.2 C1496.4,985.8 1498.8,978.2 1501.4,970.9 C1504,963.6 1506.3,956.5 1509.3,949.3 C1512.2,942.1 1516.5,933.6 1519.1,927.7 C1521.7,921.8 1522.7,918.5 1525,913.9 C1527.2,909.3 1529.6,903.9 1532.8,900 C1536,896.2 1540.1,892.6 1543.9,890.8 C1547.8,889 1552.2,889.2 1556,889.2 C1559.8,889.2 1564,889.8 1567,890.8 C1569.9,891.8 1571.3,893.1 1573.9,895.4 C1576.5,897.7 1579.5,900.9 1582.7,904.6 C1586,908.4 1590.4,912.8 1593.5,917.7 C1596.6,922.7 1598.5,929 1601.3,934.3 C1604,939.6 1606.6,943.9 1610,949.3 C1613.4,954.8 1618.2,961 1621.5,967 C1624.9,973 1627.2,979.5 1630.2,985.5 C1633.2,991.5 1636.8,997.9 1639.8,1003.2 C1642.8,1008.5 1645.7,1011.5 1648.4,1017.1 C1651.2,1022.6 1653,1030 1656.1,1036.3 C1659.2,1042.6 1663.5,1048.3 1667.2,1054.8 C1670.9,1061.3 1673.7,1065.7 1678.3,1075.6 C1682.8,1085.5 1688.9,1103.6 1694.7,1114.1 C1700.5,1124.6 1707.5,1131.7 1713.2,1138.7 C1718.9,1145.8 1723.3,1150.7 1728.8,1156.4 C1734.4,1162.2 1740.3,1168.2 1746.6,1173.4 C1752.8,1178.5 1759.9,1183 1766.3,1187.2 C1772.8,1191.5 1779.6,1195.6 1785.2,1198.8 C1790.8,1202 1792.7,1204 1800.1,1206.5 C1807.6,1208.9 1821.1,1211.5 1830,1213.4 C1839,1215.3 1847.5,1217 1854,1218 C1860.5,1219.1 1866.5,1219.3 1869,1219.6" fill="none" stroke="#000" stroke-width="4.5" stroke-linecap="butt" stroke-linejoin="round" stroke-dasharray="24 9 5 9 5 9"/>
<path d="M1372,1226.6 C1374.7,1226.2 1383.3,1225.6 1388,1223.8 C1392.7,1222.1 1396.3,1219.8 1400,1216.1 C1403.7,1212.3 1406.7,1207 1410,1201.3 C1413.3,1195.5 1416.7,1188.2 1420,1181.5 C1423.3,1174.8 1426.7,1167.9 1430,1161.1 C1433.3,1154.3 1437.2,1146.9 1440,1140.6 C1442.8,1134.4 1444.5,1130.3 1447,1123.7 C1449.5,1117.1 1452.2,1109.6 1455,1101.2 C1457.8,1092.7 1460.9,1080.8 1464,1073 C1467.1,1065.1 1470.7,1060.5 1473.5,1053.9 C1476.3,1047.3 1478.4,1040.3 1481,1033.5 C1483.6,1026.7 1486.4,1019.8 1489,1013 C1491.6,1006.2 1493.9,999.3 1496.4,992.6 C1498.9,985.9 1501.1,979.4 1504,972.8 C1506.9,966.3 1511,958.5 1513.6,953.1 C1516.1,947.7 1517.1,944.6 1519.3,940.4 C1521.5,936.2 1523.9,931.3 1527,927.7 C1530.1,924.2 1534.2,920.9 1538,919.3 C1541.8,917.6 1546.2,917.9 1550,917.9 C1553.8,917.9 1558,918.3 1561,919.3 C1564,920.2 1565.3,921.4 1568,923.5 C1570.7,925.6 1573.7,928.6 1577,932 C1580.3,935.4 1584.8,939.4 1588,943.9 C1591.2,948.5 1593.2,954.3 1596,959.1 C1598.8,963.9 1601.5,967.9 1605,972.8 C1608.5,977.8 1613.5,983.5 1617,989.1 C1620.5,994.6 1622.8,1000.5 1626,1006 C1629.2,1011.5 1632.8,1017.4 1636,1022.2 C1639.2,1027 1642.2,1029.8 1645,1034.9 C1647.8,1039.9 1649.8,1046.8 1653,1052.5 C1656.2,1058.3 1660.7,1063.4 1664.5,1069.4 C1668.3,1075.4 1671.2,1079.4 1676,1088.5 C1680.8,1097.5 1687,1114.1 1693,1123.7 C1699,1133.4 1706.2,1139.8 1712,1146.3 C1717.8,1152.7 1722.3,1157.2 1728,1162.5 C1733.7,1167.8 1739.7,1173.3 1746,1178 C1752.3,1182.7 1759.5,1186.8 1766,1190.7 C1772.5,1194.6 1779.3,1198.3 1785,1201.3 C1790.7,1204.2 1792.5,1206.1 1800,1208.3 C1807.5,1210.6 1821,1212.9 1830,1214.7 C1839,1216.4 1847.5,1218 1854,1218.9 C1860.5,1219.8 1866.5,1220.1 1869,1220.3" fill="none" stroke="#000" stroke-width="4.5" stroke-linecap="butt" stroke-linejoin="round" stroke-dasharray="26 10"/>
<path d="M1372,1196 C1375,1195.7 1384.5,1195.3 1390,1194 C1395.5,1192.7 1400.3,1191.2 1405,1188 C1409.7,1184.8 1413.8,1181.3 1418,1175 C1422.2,1168.7 1428,1154.2 1430,1150" fill="none" stroke="#000" stroke-width="4.5" stroke-linecap="butt" stroke-linejoin="round"/>
</g>
</svg></body></html>
